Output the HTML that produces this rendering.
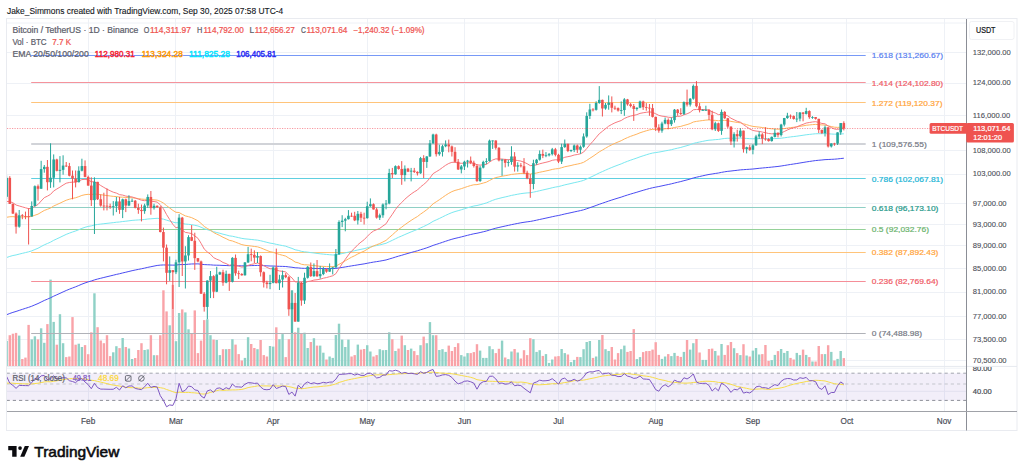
<!DOCTYPE html><html><head><meta charset="utf-8"><style>html,body{margin:0;padding:0;background:#fff;width:1024px;height:473px;overflow:hidden}svg{display:block}text{font-family:"Liberation Sans", sans-serif}</style></head><body>
<svg width="1024" height="473" viewBox="0 0 1024 473">
<rect width="1024" height="473" fill="#fff"/>
<text x="7.00" y="13.80" font-size="8.4" fill="#131722" font-weight="normal" stroke="#131722" stroke-width="0.12" textLength="276.20" lengthAdjust="spacingAndGlyphs">Jake_Simmons created with TradingView.com, Sep 30, 2025 07:58 UTC-4</text>
<rect x="6.5" y="18.5" width="1010.5" height="412" fill="none" stroke="#e9ebf0" stroke-width="1"/>
<line x1="88.50" y1="19" x2="88.50" y2="411" stroke="#eef1f6" stroke-width="1"/>
<line x1="175.50" y1="19" x2="175.50" y2="411" stroke="#eef1f6" stroke-width="1"/>
<line x1="273.50" y1="19" x2="273.50" y2="411" stroke="#eef1f6" stroke-width="1"/>
<line x1="367.50" y1="19" x2="367.50" y2="411" stroke="#eef1f6" stroke-width="1"/>
<line x1="464.50" y1="19" x2="464.50" y2="411" stroke="#eef1f6" stroke-width="1"/>
<line x1="558.50" y1="19" x2="558.50" y2="411" stroke="#eef1f6" stroke-width="1"/>
<line x1="655.50" y1="19" x2="655.50" y2="411" stroke="#eef1f6" stroke-width="1"/>
<line x1="752.50" y1="19" x2="752.50" y2="411" stroke="#eef1f6" stroke-width="1"/>
<line x1="846.50" y1="19" x2="846.50" y2="411" stroke="#eef1f6" stroke-width="1"/>
<line x1="944.50" y1="19" x2="944.50" y2="411" stroke="#eef1f6" stroke-width="1"/>
<line x1="7" y1="52.50" x2="966" y2="52.50" stroke="#eef1f6" stroke-width="1"/>
<line x1="7" y1="83.50" x2="966" y2="83.50" stroke="#eef1f6" stroke-width="1"/>
<line x1="7" y1="115.50" x2="966" y2="115.50" stroke="#eef1f6" stroke-width="1"/>
<line x1="7" y1="150.50" x2="966" y2="150.50" stroke="#eef1f6" stroke-width="1"/>
<line x1="7" y1="174.50" x2="966" y2="174.50" stroke="#eef1f6" stroke-width="1"/>
<line x1="7" y1="203.50" x2="966" y2="203.50" stroke="#eef1f6" stroke-width="1"/>
<line x1="7" y1="224.50" x2="966" y2="224.50" stroke="#eef1f6" stroke-width="1"/>
<line x1="7" y1="245.50" x2="966" y2="245.50" stroke="#eef1f6" stroke-width="1"/>
<line x1="7" y1="268.50" x2="966" y2="268.50" stroke="#eef1f6" stroke-width="1"/>
<line x1="7" y1="292.50" x2="966" y2="292.50" stroke="#eef1f6" stroke-width="1"/>
<line x1="7" y1="316.50" x2="966" y2="316.50" stroke="#eef1f6" stroke-width="1"/>
<line x1="7" y1="339.50" x2="966" y2="339.50" stroke="#eef1f6" stroke-width="1"/>
<line x1="7" y1="360.50" x2="966" y2="360.50" stroke="#eef1f6" stroke-width="1"/>
<line x1="7" y1="23" x2="966" y2="23" stroke="#eef1f6" stroke-width="1"/>
<line x1="7" y1="368.2" x2="966" y2="368.2" stroke="#eef1f6" stroke-width="1"/>
<line x1="7" y1="391.3" x2="966" y2="391.3" stroke="#eef1f6" stroke-width="1"/>
<line x1="7" y1="366.4" x2="1017" y2="366.4" stroke="#e6e9ef" stroke-width="1"/>
<rect x="7" y="373.2" width="959" height="27.2" fill="#7e57c2" fill-opacity="0.1"/>
<line x1="7" y1="373.2" x2="966" y2="373.2" stroke="#a3a6af" stroke-width="1" stroke-dasharray="3.2,3.0117" stroke-dashoffset="0.4"/>
<line x1="7" y1="384.0" x2="966" y2="384.0" stroke="#c3c5cc" stroke-width="1" stroke-dasharray="3.2,3.0117" stroke-dashoffset="0.4"/>
<line x1="7" y1="400.4" x2="966" y2="400.4" stroke="#8c8f98" stroke-width="1" stroke-dasharray="3.2,3.0117" stroke-dashoffset="0.4"/>
<defs><clipPath id="cp"><rect x="7" y="19" width="959" height="347"/></clipPath><clipPath id="cr"><rect x="7" y="366.5" width="959" height="44.5"/></clipPath></defs>
<g clip-path="url(#cp)">
<rect x="5.45" y="340.90" width="2.4" height="25.10" fill="#8fd1c6"/>
<rect x="8.59" y="335.20" width="2.4" height="30.80" fill="#f9a3a8"/>
<rect x="11.72" y="333.70" width="2.4" height="32.30" fill="#f9a3a8"/>
<rect x="14.86" y="332.90" width="2.4" height="33.10" fill="#f9a3a8"/>
<rect x="17.99" y="335.60" width="2.4" height="30.40" fill="#8fd1c6"/>
<rect x="21.13" y="359.00" width="2.4" height="7.00" fill="#f9a3a8"/>
<rect x="24.26" y="357.60" width="2.4" height="8.40" fill="#f9a3a8"/>
<rect x="27.40" y="324.90" width="2.4" height="41.10" fill="#f9a3a8"/>
<rect x="30.53" y="339.40" width="2.4" height="26.60" fill="#8fd1c6"/>
<rect x="33.67" y="336.30" width="2.4" height="29.70" fill="#8fd1c6"/>
<rect x="36.80" y="339.40" width="2.4" height="26.60" fill="#f9a3a8"/>
<rect x="39.94" y="328.30" width="2.4" height="37.70" fill="#8fd1c6"/>
<rect x="43.08" y="342.80" width="2.4" height="23.20" fill="#8fd1c6"/>
<rect x="46.21" y="324.10" width="2.4" height="41.90" fill="#f9a3a8"/>
<rect x="49.35" y="279.60" width="2.4" height="86.40" fill="#8fd1c6"/>
<rect x="52.48" y="321.90" width="2.4" height="44.10" fill="#8fd1c6"/>
<rect x="55.62" y="344.70" width="2.4" height="21.30" fill="#f9a3a8"/>
<rect x="58.75" y="314.20" width="2.4" height="51.80" fill="#8fd1c6"/>
<rect x="61.89" y="343.20" width="2.4" height="22.80" fill="#8fd1c6"/>
<rect x="65.02" y="357.10" width="2.4" height="8.90" fill="#f9a3a8"/>
<rect x="68.16" y="356.50" width="2.4" height="9.50" fill="#f9a3a8"/>
<rect x="71.30" y="317.10" width="2.4" height="48.90" fill="#f9a3a8"/>
<rect x="74.43" y="344.70" width="2.4" height="21.30" fill="#f9a3a8"/>
<rect x="77.57" y="343.70" width="2.4" height="22.30" fill="#8fd1c6"/>
<rect x="80.70" y="347.00" width="2.4" height="19.00" fill="#8fd1c6"/>
<rect x="83.84" y="345.10" width="2.4" height="20.90" fill="#f9a3a8"/>
<rect x="86.97" y="354.20" width="2.4" height="11.80" fill="#f9a3a8"/>
<rect x="90.11" y="332.30" width="2.4" height="33.70" fill="#f9a3a8"/>
<rect x="93.24" y="293.30" width="2.4" height="72.70" fill="#8fd1c6"/>
<rect x="96.38" y="327.20" width="2.4" height="38.80" fill="#f9a3a8"/>
<rect x="99.52" y="340.50" width="2.4" height="25.50" fill="#f9a3a8"/>
<rect x="102.65" y="343.20" width="2.4" height="22.80" fill="#f9a3a8"/>
<rect x="105.79" y="335.20" width="2.4" height="30.80" fill="#f9a3a8"/>
<rect x="108.92" y="356.10" width="2.4" height="9.90" fill="#f9a3a8"/>
<rect x="112.06" y="352.30" width="2.4" height="13.70" fill="#8fd1c6"/>
<rect x="115.19" y="346.20" width="2.4" height="19.80" fill="#8fd1c6"/>
<rect x="118.33" y="348.10" width="2.4" height="17.90" fill="#f9a3a8"/>
<rect x="121.46" y="338.00" width="2.4" height="28.00" fill="#8fd1c6"/>
<rect x="124.60" y="347.00" width="2.4" height="19.00" fill="#f9a3a8"/>
<rect x="127.73" y="348.50" width="2.4" height="17.50" fill="#8fd1c6"/>
<rect x="130.87" y="359.00" width="2.4" height="7.00" fill="#8fd1c6"/>
<rect x="134.01" y="358.00" width="2.4" height="8.00" fill="#f9a3a8"/>
<rect x="137.14" y="350.00" width="2.4" height="16.00" fill="#f9a3a8"/>
<rect x="140.28" y="343.20" width="2.4" height="22.80" fill="#f9a3a8"/>
<rect x="143.41" y="350.00" width="2.4" height="16.00" fill="#8fd1c6"/>
<rect x="146.55" y="349.40" width="2.4" height="16.60" fill="#8fd1c6"/>
<rect x="149.68" y="335.20" width="2.4" height="30.80" fill="#f9a3a8"/>
<rect x="152.82" y="355.20" width="2.4" height="10.80" fill="#8fd1c6"/>
<rect x="155.95" y="355.20" width="2.4" height="10.80" fill="#f9a3a8"/>
<rect x="159.09" y="335.20" width="2.4" height="30.80" fill="#f9a3a8"/>
<rect x="162.23" y="290.30" width="2.4" height="75.70" fill="#f9a3a8"/>
<rect x="165.36" y="311.40" width="2.4" height="54.60" fill="#f9a3a8"/>
<rect x="168.50" y="325.30" width="2.4" height="40.70" fill="#8fd1c6"/>
<rect x="171.63" y="284.90" width="2.4" height="81.10" fill="#f9a3a8"/>
<rect x="174.77" y="341.20" width="2.4" height="24.80" fill="#8fd1c6"/>
<rect x="177.90" y="313.00" width="2.4" height="53.00" fill="#8fd1c6"/>
<rect x="181.04" y="309.40" width="2.4" height="56.60" fill="#f9a3a8"/>
<rect x="184.17" y="312.40" width="2.4" height="53.60" fill="#8fd1c6"/>
<rect x="187.31" y="329.30" width="2.4" height="36.70" fill="#8fd1c6"/>
<rect x="190.44" y="333.30" width="2.4" height="32.70" fill="#f9a3a8"/>
<rect x="193.58" y="310.40" width="2.4" height="55.60" fill="#f9a3a8"/>
<rect x="196.72" y="353.10" width="2.4" height="12.90" fill="#f9a3a8"/>
<rect x="199.85" y="340.60" width="2.4" height="25.40" fill="#f9a3a8"/>
<rect x="202.99" y="320.10" width="2.4" height="45.90" fill="#f9a3a8"/>
<rect x="206.12" y="319.30" width="2.4" height="46.70" fill="#8fd1c6"/>
<rect x="209.26" y="335.20" width="2.4" height="30.80" fill="#8fd1c6"/>
<rect x="212.39" y="339.60" width="2.4" height="26.40" fill="#f9a3a8"/>
<rect x="215.53" y="340.00" width="2.4" height="26.00" fill="#8fd1c6"/>
<rect x="218.66" y="355.10" width="2.4" height="10.90" fill="#8fd1c6"/>
<rect x="221.80" y="349.20" width="2.4" height="16.80" fill="#f9a3a8"/>
<rect x="224.94" y="349.20" width="2.4" height="16.80" fill="#8fd1c6"/>
<rect x="228.07" y="349.00" width="2.4" height="17.00" fill="#f9a3a8"/>
<rect x="231.21" y="339.20" width="2.4" height="26.80" fill="#8fd1c6"/>
<rect x="234.34" y="344.60" width="2.4" height="21.40" fill="#f9a3a8"/>
<rect x="237.48" y="354.10" width="2.4" height="11.90" fill="#f9a3a8"/>
<rect x="240.61" y="360.50" width="2.4" height="5.50" fill="#f9a3a8"/>
<rect x="243.75" y="357.90" width="2.4" height="8.10" fill="#8fd1c6"/>
<rect x="246.88" y="337.20" width="2.4" height="28.80" fill="#8fd1c6"/>
<rect x="250.02" y="344.00" width="2.4" height="22.00" fill="#f9a3a8"/>
<rect x="253.15" y="348.00" width="2.4" height="18.00" fill="#f9a3a8"/>
<rect x="256.29" y="349.20" width="2.4" height="16.80" fill="#8fd1c6"/>
<rect x="259.43" y="340.00" width="2.4" height="26.00" fill="#f9a3a8"/>
<rect x="262.56" y="355.10" width="2.4" height="10.90" fill="#f9a3a8"/>
<rect x="265.70" y="356.50" width="2.4" height="9.50" fill="#f9a3a8"/>
<rect x="268.83" y="346.00" width="2.4" height="20.00" fill="#8fd1c6"/>
<rect x="271.97" y="346.60" width="2.4" height="19.40" fill="#8fd1c6"/>
<rect x="275.10" y="327.30" width="2.4" height="38.70" fill="#f9a3a8"/>
<rect x="278.24" y="339.20" width="2.4" height="26.80" fill="#8fd1c6"/>
<rect x="281.37" y="334.10" width="2.4" height="31.90" fill="#8fd1c6"/>
<rect x="284.51" y="357.10" width="2.4" height="8.90" fill="#f9a3a8"/>
<rect x="287.64" y="339.20" width="2.4" height="26.80" fill="#f9a3a8"/>
<rect x="290.78" y="290.30" width="2.4" height="75.70" fill="#8fd1c6"/>
<rect x="293.92" y="332.30" width="2.4" height="33.70" fill="#f9a3a8"/>
<rect x="297.05" y="327.70" width="2.4" height="38.30" fill="#8fd1c6"/>
<rect x="300.19" y="333.70" width="2.4" height="32.30" fill="#f9a3a8"/>
<rect x="303.32" y="332.70" width="2.4" height="33.30" fill="#8fd1c6"/>
<rect x="306.46" y="348.00" width="2.4" height="18.00" fill="#8fd1c6"/>
<rect x="309.59" y="342.00" width="2.4" height="24.00" fill="#f9a3a8"/>
<rect x="312.73" y="338.20" width="2.4" height="27.80" fill="#8fd1c6"/>
<rect x="315.86" y="345.60" width="2.4" height="20.40" fill="#f9a3a8"/>
<rect x="319.00" y="345.60" width="2.4" height="20.40" fill="#8fd1c6"/>
<rect x="322.14" y="352.70" width="2.4" height="13.30" fill="#8fd1c6"/>
<rect x="325.27" y="359.50" width="2.4" height="6.50" fill="#f9a3a8"/>
<rect x="328.41" y="356.50" width="2.4" height="9.50" fill="#8fd1c6"/>
<rect x="331.54" y="357.90" width="2.4" height="8.10" fill="#8fd1c6"/>
<rect x="334.68" y="335.00" width="2.4" height="31.00" fill="#8fd1c6"/>
<rect x="337.81" y="323.70" width="2.4" height="42.30" fill="#8fd1c6"/>
<rect x="340.95" y="339.60" width="2.4" height="26.40" fill="#8fd1c6"/>
<rect x="344.08" y="347.00" width="2.4" height="19.00" fill="#8fd1c6"/>
<rect x="347.22" y="339.60" width="2.4" height="26.40" fill="#8fd1c6"/>
<rect x="350.35" y="356.50" width="2.4" height="9.50" fill="#f9a3a8"/>
<rect x="353.49" y="355.10" width="2.4" height="10.90" fill="#f9a3a8"/>
<rect x="356.63" y="344.60" width="2.4" height="21.40" fill="#8fd1c6"/>
<rect x="359.76" y="349.60" width="2.4" height="16.40" fill="#f9a3a8"/>
<rect x="362.90" y="349.00" width="2.4" height="17.00" fill="#f9a3a8"/>
<rect x="366.03" y="345.20" width="2.4" height="20.80" fill="#8fd1c6"/>
<rect x="369.17" y="351.50" width="2.4" height="14.50" fill="#8fd1c6"/>
<rect x="372.30" y="356.50" width="2.4" height="9.50" fill="#f9a3a8"/>
<rect x="375.44" y="355.10" width="2.4" height="10.90" fill="#f9a3a8"/>
<rect x="378.57" y="349.20" width="2.4" height="16.80" fill="#8fd1c6"/>
<rect x="381.71" y="350.20" width="2.4" height="15.80" fill="#8fd1c6"/>
<rect x="384.85" y="350.00" width="2.4" height="16.00" fill="#8fd1c6"/>
<rect x="387.98" y="332.30" width="2.4" height="33.70" fill="#8fd1c6"/>
<rect x="391.12" y="339.20" width="2.4" height="26.80" fill="#f9a3a8"/>
<rect x="394.25" y="351.00" width="2.4" height="15.00" fill="#8fd1c6"/>
<rect x="397.39" y="348.60" width="2.4" height="17.40" fill="#f9a3a8"/>
<rect x="400.52" y="335.60" width="2.4" height="30.40" fill="#f9a3a8"/>
<rect x="403.66" y="345.20" width="2.4" height="20.80" fill="#8fd1c6"/>
<rect x="406.79" y="350.00" width="2.4" height="16.00" fill="#f9a3a8"/>
<rect x="409.93" y="348.60" width="2.4" height="17.40" fill="#8fd1c6"/>
<rect x="413.06" y="351.10" width="2.4" height="14.90" fill="#f9a3a8"/>
<rect x="416.20" y="355.10" width="2.4" height="10.90" fill="#f9a3a8"/>
<rect x="419.34" y="345.20" width="2.4" height="20.80" fill="#8fd1c6"/>
<rect x="422.47" y="336.60" width="2.4" height="29.40" fill="#f9a3a8"/>
<rect x="425.61" y="343.20" width="2.4" height="22.80" fill="#8fd1c6"/>
<rect x="428.74" y="322.10" width="2.4" height="43.90" fill="#8fd1c6"/>
<rect x="431.88" y="335.20" width="2.4" height="30.80" fill="#8fd1c6"/>
<rect x="435.01" y="335.20" width="2.4" height="30.80" fill="#f9a3a8"/>
<rect x="438.15" y="350.00" width="2.4" height="16.00" fill="#8fd1c6"/>
<rect x="441.28" y="349.20" width="2.4" height="16.80" fill="#8fd1c6"/>
<rect x="444.42" y="351.90" width="2.4" height="14.10" fill="#8fd1c6"/>
<rect x="447.56" y="345.60" width="2.4" height="20.40" fill="#f9a3a8"/>
<rect x="450.69" y="351.00" width="2.4" height="15.00" fill="#f9a3a8"/>
<rect x="453.83" y="347.00" width="2.4" height="19.00" fill="#f9a3a8"/>
<rect x="456.96" y="343.20" width="2.4" height="22.80" fill="#f9a3a8"/>
<rect x="460.10" y="355.10" width="2.4" height="10.90" fill="#8fd1c6"/>
<rect x="463.23" y="356.50" width="2.4" height="9.50" fill="#8fd1c6"/>
<rect x="466.37" y="353.10" width="2.4" height="12.90" fill="#8fd1c6"/>
<rect x="469.50" y="353.10" width="2.4" height="12.90" fill="#f9a3a8"/>
<rect x="472.64" y="352.10" width="2.4" height="13.90" fill="#f9a3a8"/>
<rect x="475.77" y="344.20" width="2.4" height="21.80" fill="#f9a3a8"/>
<rect x="478.91" y="350.60" width="2.4" height="15.40" fill="#8fd1c6"/>
<rect x="482.05" y="357.90" width="2.4" height="8.10" fill="#8fd1c6"/>
<rect x="485.18" y="357.90" width="2.4" height="8.10" fill="#8fd1c6"/>
<rect x="488.32" y="346.20" width="2.4" height="19.80" fill="#8fd1c6"/>
<rect x="491.45" y="349.20" width="2.4" height="16.80" fill="#8fd1c6"/>
<rect x="494.59" y="353.10" width="2.4" height="12.90" fill="#f9a3a8"/>
<rect x="497.72" y="348.80" width="2.4" height="17.20" fill="#f9a3a8"/>
<rect x="500.86" y="340.60" width="2.4" height="25.40" fill="#8fd1c6"/>
<rect x="503.99" y="357.50" width="2.4" height="8.50" fill="#f9a3a8"/>
<rect x="507.13" y="359.10" width="2.4" height="6.90" fill="#8fd1c6"/>
<rect x="510.27" y="351.50" width="2.4" height="14.50" fill="#8fd1c6"/>
<rect x="513.40" y="349.00" width="2.4" height="17.00" fill="#f9a3a8"/>
<rect x="516.54" y="352.50" width="2.4" height="13.50" fill="#8fd1c6"/>
<rect x="519.67" y="358.50" width="2.4" height="7.50" fill="#f9a3a8"/>
<rect x="522.81" y="350.20" width="2.4" height="15.80" fill="#f9a3a8"/>
<rect x="525.94" y="355.10" width="2.4" height="10.90" fill="#f9a3a8"/>
<rect x="529.08" y="338.20" width="2.4" height="27.80" fill="#f9a3a8"/>
<rect x="532.21" y="339.20" width="2.4" height="26.80" fill="#8fd1c6"/>
<rect x="535.35" y="351.90" width="2.4" height="14.10" fill="#8fd1c6"/>
<rect x="538.48" y="350.20" width="2.4" height="15.80" fill="#8fd1c6"/>
<rect x="541.62" y="355.90" width="2.4" height="10.10" fill="#f9a3a8"/>
<rect x="544.76" y="354.10" width="2.4" height="11.90" fill="#8fd1c6"/>
<rect x="547.89" y="362.90" width="2.4" height="3.10" fill="#8fd1c6"/>
<rect x="551.03" y="359.50" width="2.4" height="6.50" fill="#8fd1c6"/>
<rect x="554.16" y="356.50" width="2.4" height="9.50" fill="#f9a3a8"/>
<rect x="557.30" y="356.10" width="2.4" height="9.90" fill="#f9a3a8"/>
<rect x="560.43" y="349.00" width="2.4" height="17.00" fill="#8fd1c6"/>
<rect x="563.57" y="353.10" width="2.4" height="12.90" fill="#8fd1c6"/>
<rect x="566.70" y="354.50" width="2.4" height="11.50" fill="#f9a3a8"/>
<rect x="569.84" y="362.10" width="2.4" height="3.90" fill="#8fd1c6"/>
<rect x="572.98" y="359.90" width="2.4" height="6.10" fill="#8fd1c6"/>
<rect x="576.11" y="356.90" width="2.4" height="9.10" fill="#f9a3a8"/>
<rect x="579.25" y="357.10" width="2.4" height="8.90" fill="#8fd1c6"/>
<rect x="582.38" y="349.20" width="2.4" height="16.80" fill="#8fd1c6"/>
<rect x="585.52" y="342.00" width="2.4" height="24.00" fill="#8fd1c6"/>
<rect x="588.65" y="341.00" width="2.4" height="25.00" fill="#8fd1c6"/>
<rect x="591.79" y="357.90" width="2.4" height="8.10" fill="#f9a3a8"/>
<rect x="594.92" y="356.50" width="2.4" height="9.50" fill="#8fd1c6"/>
<rect x="598.06" y="340.00" width="2.4" height="26.00" fill="#8fd1c6"/>
<rect x="601.19" y="335.00" width="2.4" height="31.00" fill="#f9a3a8"/>
<rect x="604.33" y="349.20" width="2.4" height="16.80" fill="#8fd1c6"/>
<rect x="607.47" y="351.00" width="2.4" height="15.00" fill="#8fd1c6"/>
<rect x="610.60" y="347.00" width="2.4" height="19.00" fill="#f9a3a8"/>
<rect x="613.74" y="359.50" width="2.4" height="6.50" fill="#f9a3a8"/>
<rect x="616.87" y="353.10" width="2.4" height="12.90" fill="#f9a3a8"/>
<rect x="620.01" y="349.20" width="2.4" height="16.80" fill="#8fd1c6"/>
<rect x="623.14" y="345.60" width="2.4" height="20.40" fill="#8fd1c6"/>
<rect x="626.28" y="351.90" width="2.4" height="14.10" fill="#f9a3a8"/>
<rect x="629.41" y="351.00" width="2.4" height="15.00" fill="#f9a3a8"/>
<rect x="632.55" y="329.10" width="2.4" height="36.90" fill="#f9a3a8"/>
<rect x="635.69" y="359.10" width="2.4" height="6.90" fill="#8fd1c6"/>
<rect x="638.82" y="357.10" width="2.4" height="8.90" fill="#8fd1c6"/>
<rect x="641.96" y="352.10" width="2.4" height="13.90" fill="#f9a3a8"/>
<rect x="645.09" y="351.10" width="2.4" height="14.90" fill="#f9a3a8"/>
<rect x="648.23" y="351.00" width="2.4" height="15.00" fill="#f9a3a8"/>
<rect x="651.36" y="349.60" width="2.4" height="16.40" fill="#f9a3a8"/>
<rect x="654.50" y="342.20" width="2.4" height="23.80" fill="#f9a3a8"/>
<rect x="657.63" y="354.90" width="2.4" height="11.10" fill="#f9a3a8"/>
<rect x="660.77" y="358.90" width="2.4" height="7.10" fill="#8fd1c6"/>
<rect x="663.90" y="356.50" width="2.4" height="9.50" fill="#8fd1c6"/>
<rect x="667.04" y="354.10" width="2.4" height="11.90" fill="#f9a3a8"/>
<rect x="670.18" y="356.10" width="2.4" height="9.90" fill="#8fd1c6"/>
<rect x="673.31" y="352.90" width="2.4" height="13.10" fill="#8fd1c6"/>
<rect x="676.45" y="355.90" width="2.4" height="10.10" fill="#f9a3a8"/>
<rect x="679.58" y="356.90" width="2.4" height="9.10" fill="#f9a3a8"/>
<rect x="682.72" y="351.90" width="2.4" height="14.10" fill="#8fd1c6"/>
<rect x="685.85" y="340.00" width="2.4" height="26.00" fill="#f9a3a8"/>
<rect x="688.99" y="349.60" width="2.4" height="16.40" fill="#8fd1c6"/>
<rect x="692.12" y="343.20" width="2.4" height="22.80" fill="#8fd1c6"/>
<rect x="695.26" y="339.00" width="2.4" height="27.00" fill="#f9a3a8"/>
<rect x="698.40" y="352.50" width="2.4" height="13.50" fill="#f9a3a8"/>
<rect x="701.53" y="359.90" width="2.4" height="6.10" fill="#8fd1c6"/>
<rect x="704.67" y="359.90" width="2.4" height="6.10" fill="#8fd1c6"/>
<rect x="707.80" y="349.00" width="2.4" height="17.00" fill="#f9a3a8"/>
<rect x="710.94" y="348.60" width="2.4" height="17.40" fill="#f9a3a8"/>
<rect x="714.07" y="351.00" width="2.4" height="15.00" fill="#8fd1c6"/>
<rect x="717.21" y="355.50" width="2.4" height="10.50" fill="#f9a3a8"/>
<rect x="720.34" y="344.00" width="2.4" height="22.00" fill="#8fd1c6"/>
<rect x="723.48" y="354.90" width="2.4" height="11.10" fill="#f9a3a8"/>
<rect x="726.61" y="345.20" width="2.4" height="20.80" fill="#f9a3a8"/>
<rect x="729.75" y="342.00" width="2.4" height="24.00" fill="#f9a3a8"/>
<rect x="732.89" y="348.20" width="2.4" height="17.80" fill="#8fd1c6"/>
<rect x="736.02" y="353.10" width="2.4" height="12.90" fill="#f9a3a8"/>
<rect x="739.16" y="355.10" width="2.4" height="10.90" fill="#8fd1c6"/>
<rect x="742.29" y="344.20" width="2.4" height="21.80" fill="#f9a3a8"/>
<rect x="745.43" y="355.50" width="2.4" height="10.50" fill="#8fd1c6"/>
<rect x="748.56" y="356.50" width="2.4" height="9.50" fill="#f9a3a8"/>
<rect x="751.70" y="350.60" width="2.4" height="15.40" fill="#8fd1c6"/>
<rect x="754.83" y="348.00" width="2.4" height="18.00" fill="#8fd1c6"/>
<rect x="757.97" y="354.50" width="2.4" height="11.50" fill="#8fd1c6"/>
<rect x="761.11" y="354.10" width="2.4" height="11.90" fill="#f9a3a8"/>
<rect x="764.24" y="345.00" width="2.4" height="21.00" fill="#f9a3a8"/>
<rect x="767.38" y="360.90" width="2.4" height="5.10" fill="#f9a3a8"/>
<rect x="770.51" y="360.10" width="2.4" height="5.90" fill="#8fd1c6"/>
<rect x="773.65" y="354.90" width="2.4" height="11.10" fill="#8fd1c6"/>
<rect x="776.78" y="351.10" width="2.4" height="14.90" fill="#f9a3a8"/>
<rect x="779.92" y="349.00" width="2.4" height="17.00" fill="#8fd1c6"/>
<rect x="783.05" y="352.90" width="2.4" height="13.10" fill="#8fd1c6"/>
<rect x="786.19" y="351.00" width="2.4" height="15.00" fill="#8fd1c6"/>
<rect x="789.32" y="357.90" width="2.4" height="8.10" fill="#f9a3a8"/>
<rect x="792.46" y="359.50" width="2.4" height="6.50" fill="#f9a3a8"/>
<rect x="795.60" y="352.90" width="2.4" height="13.10" fill="#8fd1c6"/>
<rect x="798.73" y="355.10" width="2.4" height="10.90" fill="#8fd1c6"/>
<rect x="801.87" y="349.60" width="2.4" height="16.40" fill="#f9a3a8"/>
<rect x="805.00" y="354.90" width="2.4" height="11.10" fill="#8fd1c6"/>
<rect x="808.14" y="357.10" width="2.4" height="8.90" fill="#f9a3a8"/>
<rect x="811.27" y="361.50" width="2.4" height="4.50" fill="#8fd1c6"/>
<rect x="814.41" y="361.50" width="2.4" height="4.50" fill="#f9a3a8"/>
<rect x="817.54" y="346.00" width="2.4" height="20.00" fill="#f9a3a8"/>
<rect x="820.68" y="354.10" width="2.4" height="11.90" fill="#f9a3a8"/>
<rect x="823.82" y="354.10" width="2.4" height="11.90" fill="#8fd1c6"/>
<rect x="826.95" y="345.20" width="2.4" height="20.80" fill="#f9a3a8"/>
<rect x="830.09" y="351.90" width="2.4" height="14.10" fill="#8fd1c6"/>
<rect x="833.22" y="360.50" width="2.4" height="5.50" fill="#f9a3a8"/>
<rect x="836.36" y="358.90" width="2.4" height="7.10" fill="#8fd1c6"/>
<rect x="839.49" y="351.00" width="2.4" height="15.00" fill="#8fd1c6"/>
<rect x="842.63" y="358.10" width="2.4" height="7.90" fill="#f9a3a8"/>
<line x1="31.2" y1="55.50" x2="865.7" y2="55.50" stroke="#7799f7" stroke-width="1"/>
<line x1="31.2" y1="82.50" x2="865.7" y2="82.50" stroke="#f5939b" stroke-width="1"/>
<line x1="31.2" y1="102.50" x2="865.7" y2="102.50" stroke="#ffc47a" stroke-width="1"/>
<line x1="31.2" y1="144.00" x2="865.7" y2="144.00" stroke="#d1d3d8" stroke-width="2"/>
<line x1="31.2" y1="178.50" x2="865.7" y2="178.50" stroke="#5fcfe0" stroke-width="1"/>
<line x1="31.2" y1="207.50" x2="865.7" y2="207.50" stroke="#8fcfc5" stroke-width="1"/>
<line x1="31.2" y1="229.50" x2="865.7" y2="229.50" stroke="#95d199" stroke-width="1"/>
<line x1="31.2" y1="252.50" x2="865.7" y2="252.50" stroke="#ffc47a" stroke-width="1"/>
<line x1="31.2" y1="281.50" x2="865.7" y2="281.50" stroke="#f58e98" stroke-width="1"/>
<line x1="31.2" y1="333.50" x2="865.7" y2="333.50" stroke="#b0b2b8" stroke-width="1"/>
</g>
<g clip-path="url(#cp)" fill="none" stroke-linejoin="round">
<polyline points="6.65,314.72 9.79,313.48 12.92,312.38 16.06,311.45 19.19,310.39 22.33,309.36 25.46,308.34 28.60,307.33 31.73,306.22 34.87,304.87 38.01,303.56 41.14,302.03 44.28,300.48 47.41,299.15 50.55,297.78 53.68,296.19 56.82,294.78 59.95,293.36 63.09,291.91 66.22,290.49 69.36,289.20 72.50,287.97 75.63,286.80 78.77,285.49 81.90,284.15 85.04,282.96 88.17,281.89 91.31,281.01 94.44,279.91 97.58,279.04 100.72,278.25 103.85,277.48 106.99,276.71 110.12,275.96 113.26,275.21 116.39,274.42 119.53,273.74 122.66,272.94 125.80,272.22 128.93,271.46 132.07,270.70 135.21,270.03 138.34,269.40 141.48,268.78 144.61,268.11 147.75,267.35 150.88,266.72 154.02,266.08 157.15,265.46 160.29,265.11 163.43,264.94 166.56,265.01 169.70,265.06 172.83,265.14 175.97,265.11 179.10,264.61 182.24,264.58 185.37,264.49 188.51,264.21 191.64,263.97 194.78,263.91 197.92,263.89 201.05,264.18 204.19,264.58 207.32,264.74 210.46,264.85 213.59,265.11 216.73,265.20 219.86,265.27 223.00,265.44 226.13,265.53 229.27,265.69 232.41,265.61 235.54,265.68 238.68,265.77 241.81,265.86 244.95,265.82 248.08,265.71 251.22,265.60 254.35,265.52 257.49,265.42 260.63,265.49 263.76,265.66 266.90,265.84 270.03,266.00 273.17,266.02 276.30,266.19 279.44,266.32 282.57,266.40 285.71,266.51 288.84,266.92 291.98,267.26 295.12,267.78 298.25,267.92 301.39,268.24 304.52,268.33 307.66,268.31 310.79,268.39 313.93,268.42 317.06,268.50 320.20,268.55 323.34,268.56 326.47,268.59 329.61,268.58 332.74,268.57 335.88,268.43 339.01,267.94 342.15,267.45 345.28,266.94 348.42,266.41 351.55,265.88 354.69,265.40 357.83,264.86 360.96,264.37 364.10,263.89 367.23,263.28 370.37,262.66 373.50,262.10 376.64,261.63 379.77,261.15 382.91,260.55 386.05,259.95 389.18,259.01 392.32,258.09 395.45,257.08 398.59,256.12 401.72,255.25 404.86,254.31 407.99,253.41 411.13,252.51 414.26,251.64 417.40,250.80 420.54,249.78 423.67,248.83 426.81,247.82 429.94,246.66 433.08,245.41 436.21,244.41 439.35,243.40 442.48,242.33 445.62,241.26 448.76,240.22 451.89,239.25 455.03,238.42 458.16,237.68 461.30,236.92 464.43,236.11 467.57,235.30 470.70,234.52 473.84,233.79 476.97,233.24 480.11,232.54 483.25,231.79 486.38,231.03 489.52,230.04 492.65,229.07 495.79,228.19 498.92,227.46 502.06,226.74 505.19,226.06 508.33,225.38 511.47,224.65 514.60,224.04 517.74,223.42 520.87,222.81 524.01,222.29 527.14,221.83 530.28,221.44 533.41,220.83 536.55,220.18 539.68,219.47 542.82,218.80 545.96,218.12 549.09,217.44 552.23,216.72 555.36,216.06 558.50,215.49 561.63,214.76 564.77,214.00 567.90,213.33 571.04,212.66 574.18,211.94 577.31,211.28 580.45,210.60 583.58,209.80 586.72,208.77 589.85,207.68 592.99,206.60 596.12,205.46 599.26,204.29 602.39,203.23 605.53,202.15 608.67,201.05 611.80,200.03 614.94,199.03 618.07,198.06 621.21,197.11 624.34,196.03 627.48,195.03 630.61,194.06 633.75,193.14 636.89,192.21 640.02,191.22 643.16,190.31 646.29,189.41 649.43,188.53 652.56,187.77 655.70,187.13 658.83,186.53 661.97,185.87 665.11,185.16 668.24,184.52 671.38,183.83 674.51,183.04 677.65,182.29 680.78,181.56 683.92,180.70 687.05,179.88 690.19,179.01 693.32,177.99 696.46,177.22 699.60,176.51 702.73,175.80 705.87,175.10 709.00,174.46 712.14,173.99 715.27,173.46 718.41,173.02 721.54,172.37 724.68,171.80 727.81,171.33 730.95,171.02 734.09,170.64 737.22,170.29 740.36,169.88 743.49,169.67 746.63,169.44 749.76,169.24 752.90,169.00 756.03,168.66 759.17,168.31 762.31,168.00 765.44,167.71 768.58,167.43 771.71,167.12 774.85,166.77 777.98,166.44 781.12,166.01 784.25,165.51 787.39,164.98 790.52,164.47 793.66,164.00 796.80,163.53 799.93,162.99 803.07,162.48 806.20,161.94 809.34,161.47 812.47,161.01 815.61,160.57 818.74,160.26 821.88,159.98 825.02,159.64 828.15,159.51 831.29,159.35 834.42,159.19 837.56,158.91 840.69,158.54 843.83,158.23" stroke="#4a4cf2" stroke-width="1"/>
<polyline points="6.65,257.54 9.79,256.41 12.92,255.53 16.06,254.94 19.19,254.12 22.33,253.34 25.46,252.58 28.60,251.83 31.73,250.88 34.87,249.52 38.01,248.24 41.14,246.54 44.28,244.83 47.41,243.51 50.55,242.12 53.68,240.34 56.82,238.86 59.95,237.40 63.09,235.87 66.22,234.38 69.36,233.15 72.50,232.01 75.63,230.97 78.77,229.71 81.90,228.36 85.04,227.29 88.17,226.43 91.31,225.89 94.44,224.98 97.58,224.46 100.72,224.08 103.85,223.71 106.99,223.35 110.12,223.01 113.26,222.67 116.39,222.24 119.53,221.99 122.66,221.53 125.80,221.21 128.93,220.80 132.07,220.40 135.21,220.15 138.34,219.94 141.48,219.76 144.61,219.48 147.75,219.02 150.88,218.80 154.02,218.54 157.15,218.32 160.29,218.58 163.43,219.14 166.56,220.15 169.70,221.09 172.83,222.06 175.97,222.82 179.10,222.72 182.24,223.46 185.37,224.07 188.51,224.33 191.64,224.65 194.78,225.29 197.92,225.98 201.05,227.23 204.19,228.69 207.32,229.67 210.46,230.55 213.59,231.69 216.73,232.50 219.86,233.26 223.00,234.19 226.13,234.94 229.27,235.83 232.41,236.25 235.54,236.96 238.68,237.67 241.81,238.39 244.95,238.85 248.08,239.15 251.22,239.46 254.35,239.81 257.49,240.13 260.63,240.74 263.76,241.54 266.90,242.34 270.03,243.11 273.17,243.58 276.30,244.34 279.44,245.01 282.57,245.59 285.71,246.20 288.84,247.37 291.98,248.41 295.12,249.76 298.25,250.39 301.39,251.34 304.52,251.85 307.66,252.14 310.79,252.60 313.93,252.96 317.06,253.41 320.20,253.81 323.34,254.11 326.47,254.45 329.61,254.72 332.74,254.97 335.88,254.95 339.01,254.28 342.15,253.59 345.28,252.88 348.42,252.12 351.55,251.37 354.69,250.74 357.83,249.98 360.96,249.32 364.10,248.69 367.23,247.81 370.37,246.91 373.50,246.14 376.64,245.56 379.77,244.94 382.91,244.10 386.05,243.27 389.18,241.77 392.32,240.34 395.45,238.76 398.59,237.28 401.72,235.97 404.86,234.54 407.99,233.21 411.13,231.89 414.26,230.63 417.40,229.43 420.54,227.91 423.67,226.51 426.81,225.02 429.94,223.27 433.08,221.35 436.21,219.92 439.35,218.48 442.48,216.94 445.62,215.40 448.76,213.93 451.89,212.62 455.03,211.56 458.16,210.69 461.30,209.78 464.43,208.78 467.57,207.78 470.70,206.85 473.84,206.00 476.97,205.50 480.11,204.72 483.25,203.83 486.38,202.95 489.52,201.63 492.65,200.35 495.79,199.25 498.92,198.45 502.06,197.65 505.19,196.94 508.33,196.22 511.47,195.40 514.60,194.82 517.74,194.21 520.87,193.65 524.01,193.22 527.14,192.92 530.28,192.75 533.41,192.14 536.55,191.48 539.68,190.71 542.82,189.99 545.96,189.28 549.09,188.56 552.23,187.75 555.36,187.08 558.50,186.56 561.63,185.74 564.77,184.88 567.90,184.18 571.04,183.48 574.18,182.70 577.31,182.03 580.45,181.30 583.58,180.38 586.72,179.01 589.85,177.54 592.99,176.10 596.12,174.54 599.26,172.95 602.39,171.59 605.53,170.17 608.67,168.74 611.80,167.46 614.94,166.21 618.07,165.04 621.21,163.89 624.34,162.53 627.48,161.31 630.61,160.15 633.75,159.09 636.89,158.01 640.02,156.83 643.16,155.80 646.29,154.80 649.43,153.83 652.56,153.07 655.70,152.55 658.83,152.10 661.97,151.52 665.11,150.87 668.24,150.33 671.38,149.72 674.51,148.89 677.65,148.15 680.78,147.45 683.92,146.51 687.05,145.65 690.19,144.67 693.32,143.44 696.46,142.67 699.60,142.01 702.73,141.36 705.87,140.71 709.00,140.19 712.14,139.97 715.27,139.63 718.41,139.46 721.54,138.90 724.68,138.48 727.81,138.24 730.95,138.31 734.09,138.22 737.22,138.19 740.36,138.03 743.49,138.25 746.63,138.43 749.76,138.65 752.90,138.78 756.03,138.74 759.17,138.65 762.31,138.65 765.44,138.66 768.58,138.71 771.71,138.67 774.85,138.55 777.98,138.48 781.12,138.20 784.25,137.80 787.39,137.35 790.52,136.92 793.66,136.56 796.80,136.20 799.93,135.72 803.07,135.27 806.20,134.78 809.34,134.43 812.47,134.08 815.61,133.77 818.74,133.69 821.88,133.68 825.02,133.55 828.15,133.80 831.29,134.00 834.42,134.18 837.56,134.15 840.69,133.92 843.83,133.81" stroke="#7ae8f0" stroke-width="1"/>
<polyline points="6.65,217.29 9.79,216.76 12.92,216.64 16.06,217.03 19.19,216.96 22.33,216.92 25.46,216.89 28.60,216.87 31.73,216.44 34.87,215.22 38.01,214.16 41.14,212.31 44.28,210.45 47.41,209.31 50.55,208.03 53.68,206.03 56.82,204.60 59.95,203.19 63.09,201.66 66.22,200.22 69.36,199.23 72.50,198.41 75.63,197.76 78.77,196.67 81.90,195.43 85.04,194.69 88.17,194.33 91.31,194.56 94.44,194.06 97.58,194.26 100.72,194.70 103.85,195.13 106.99,195.55 110.12,195.97 113.26,196.36 116.39,196.56 119.53,197.08 122.66,197.16 125.80,197.49 128.93,197.63 132.07,197.75 135.21,198.14 138.34,198.60 141.48,199.08 144.61,199.33 147.75,199.24 150.88,199.58 154.02,199.82 157.15,200.12 160.29,201.33 163.43,203.07 166.56,205.62 169.70,208.00 172.83,210.37 175.97,212.30 179.10,212.51 182.24,214.34 185.37,215.89 188.51,216.71 191.64,217.63 194.78,219.16 197.92,220.75 201.05,223.42 204.19,226.44 207.32,228.45 210.46,230.23 213.59,232.51 216.73,234.08 219.86,235.53 223.00,237.29 226.13,238.67 229.27,240.30 232.41,240.97 235.54,242.20 238.68,243.41 241.81,244.62 244.95,245.31 248.08,245.66 251.22,246.01 254.35,246.46 257.49,246.83 260.63,247.81 263.76,249.12 266.90,250.45 270.03,251.68 273.17,252.29 276.30,253.46 279.44,254.46 282.57,255.26 285.71,256.10 288.84,258.08 291.98,259.76 295.12,262.05 298.25,262.84 301.39,264.26 304.52,264.79 307.66,264.87 310.79,265.30 313.93,265.53 317.06,265.94 320.20,266.26 323.34,266.37 326.47,266.58 329.61,266.64 332.74,266.67 335.88,266.17 339.01,264.36 342.15,262.57 345.28,260.80 348.42,258.95 351.55,257.19 354.69,255.69 357.83,253.98 360.96,252.50 364.10,251.11 367.23,249.27 370.37,247.43 373.50,245.88 376.64,244.74 379.77,243.55 382.91,241.96 386.05,240.39 389.18,237.57 392.32,234.93 395.45,232.04 398.59,229.41 401.72,227.16 404.86,224.73 407.99,222.54 411.13,220.40 414.26,218.40 417.40,216.55 420.54,214.12 423.67,211.97 426.81,209.67 429.94,206.89 433.08,203.84 436.21,201.80 439.35,199.74 442.48,197.53 445.62,195.34 448.76,193.33 451.89,191.63 455.03,190.42 458.16,189.59 461.30,188.66 464.43,187.57 467.57,186.49 470.70,185.54 473.84,184.75 476.97,184.61 480.11,183.93 483.25,183.05 486.38,182.17 489.52,180.47 492.65,178.84 495.79,177.58 498.92,176.90 502.06,176.22 505.19,175.69 508.33,175.14 511.47,174.40 514.60,174.09 517.74,173.74 520.87,173.44 524.01,173.42 527.14,173.61 530.28,174.01 533.41,173.59 536.55,173.03 539.68,172.27 542.82,171.61 545.96,170.96 549.09,170.29 552.23,169.45 555.36,168.87 558.50,168.58 561.63,167.72 564.77,166.76 567.90,166.13 571.04,165.49 574.18,164.69 577.31,164.10 580.45,163.40 583.58,162.32 586.72,160.41 589.85,158.31 592.99,156.32 596.12,154.12 599.26,151.87 602.39,150.10 605.53,148.24 608.67,146.37 611.80,144.80 614.94,143.31 618.07,141.98 621.21,140.69 624.34,139.00 627.48,137.60 630.61,136.32 633.75,135.22 636.89,134.11 640.02,132.79 643.16,131.76 646.29,130.79 649.43,129.89 652.56,129.37 655.70,129.29 658.83,129.35 661.97,129.12 665.11,128.75 668.24,128.57 671.38,128.24 674.51,127.50 677.65,126.92 680.78,126.40 683.92,125.43 687.05,124.60 690.19,123.55 693.32,122.02 696.46,121.39 699.60,120.95 702.73,120.52 705.87,120.10 709.00,119.89 712.14,120.26 715.27,120.37 718.41,120.78 721.54,120.43 724.68,120.35 727.81,120.59 730.95,121.39 734.09,121.88 737.22,122.44 740.36,122.76 743.49,123.77 746.63,124.67 749.76,125.63 752.90,126.39 756.03,126.78 759.17,127.08 762.31,127.53 765.44,127.97 768.58,128.48 771.71,128.81 774.85,128.96 777.98,129.20 781.12,129.02 784.25,128.58 787.39,128.07 790.52,127.60 793.66,127.26 796.80,126.91 799.93,126.34 803.07,125.85 806.20,125.26 809.34,124.94 812.47,124.63 815.61,124.40 818.74,124.61 821.88,124.94 825.02,125.03 828.15,125.85 831.29,126.53 834.42,127.19 837.56,127.39 840.69,127.22 843.83,127.27" stroke="#ffb45e" stroke-width="1"/>
<polyline points="6.65,201.40 9.79,201.63 12.92,202.76 16.06,204.99 19.19,205.96 22.33,206.90 25.46,207.78 28.60,208.60 31.73,208.35 34.87,206.20 38.01,204.52 41.14,201.03 44.28,197.67 47.41,196.18 50.55,194.39 53.68,190.95 56.82,189.00 59.95,187.14 63.09,185.05 66.22,183.21 69.36,182.49 72.50,182.12 75.63,182.13 78.77,181.03 81.90,179.58 85.04,179.33 88.17,179.92 91.31,181.81 94.44,181.81 97.58,183.45 100.72,185.52 103.85,187.40 106.99,189.15 110.12,190.75 113.26,192.20 116.39,193.08 119.53,194.65 122.66,195.09 125.80,196.08 128.93,196.55 132.07,196.95 135.21,197.97 138.34,199.10 141.48,200.23 144.61,200.73 147.75,200.36 150.88,201.10 154.02,201.54 157.15,202.09 160.29,204.86 163.43,208.78 166.56,214.53 169.70,219.57 172.83,224.34 175.97,227.84 179.10,226.86 182.24,230.05 185.37,232.42 188.51,232.86 191.64,233.61 194.78,235.90 197.92,238.28 201.05,243.29 204.19,249.01 207.32,251.93 210.46,254.18 213.59,257.64 216.73,259.21 219.86,260.44 223.00,262.51 226.13,263.58 229.27,265.29 232.41,264.57 235.54,265.40 238.68,266.21 241.81,267.07 244.95,266.62 248.08,265.43 251.22,264.41 254.35,263.76 257.49,263.02 260.63,263.89 263.76,265.63 266.90,267.36 270.03,268.81 273.17,268.69 276.30,270.05 279.44,270.95 282.57,271.35 285.71,271.90 288.84,275.34 291.98,277.90 295.12,281.90 298.25,281.98 301.39,283.71 304.52,283.14 307.66,281.56 310.79,281.04 313.93,280.09 317.06,279.72 320.20,279.18 323.34,278.20 326.47,277.57 329.61,276.67 332.74,275.78 335.88,273.68 339.01,268.52 342.15,263.76 345.28,259.33 348.42,255.01 351.55,251.14 354.69,248.12 357.83,244.75 360.96,242.11 364.10,239.78 367.23,236.49 370.37,233.32 373.50,231.00 376.64,229.71 379.77,228.31 382.91,225.99 386.05,223.81 389.18,218.74 392.32,214.33 395.45,209.54 398.59,205.52 401.72,202.54 404.86,199.21 407.99,196.52 411.13,194.00 414.26,191.85 417.40,190.05 420.54,186.92 423.67,184.48 426.81,181.74 429.94,177.95 433.08,173.65 436.21,171.76 439.35,169.83 442.48,167.54 445.62,165.29 448.76,163.46 451.89,162.34 455.03,162.29 458.16,162.97 461.30,163.30 464.43,163.15 467.57,162.91 470.70,162.89 473.84,163.19 476.97,164.86 480.11,165.12 483.25,164.81 486.38,164.46 489.52,162.13 492.65,160.03 495.79,158.86 498.92,159.01 502.06,159.08 505.19,159.44 508.33,159.68 511.47,159.37 514.60,160.06 517.74,160.55 520.87,161.09 524.01,162.19 527.14,163.71 530.28,165.61 533.41,165.38 536.55,164.84 539.68,163.79 542.82,163.01 545.96,162.27 549.09,161.49 552.23,160.32 555.36,159.79 558.50,159.96 561.63,158.72 564.77,157.28 567.90,156.68 571.04,156.04 574.18,155.03 577.31,154.52 580.45,153.78 583.58,152.10 586.72,148.54 589.85,144.68 592.99,141.25 596.12,137.48 599.26,133.77 602.39,131.30 605.53,128.72 608.67,126.17 611.80,124.39 614.94,122.82 618.07,121.64 621.21,120.52 624.34,118.47 627.48,117.11 630.61,116.05 633.75,115.37 636.89,114.64 640.02,113.37 643.16,112.78 646.29,112.29 649.43,111.89 652.56,112.37 655.70,113.78 658.83,115.37 661.97,116.14 665.11,116.49 668.24,117.22 671.38,117.50 674.51,116.74 677.65,116.39 680.78,116.15 683.92,114.80 687.05,113.82 690.19,112.36 693.32,109.77 696.46,109.44 699.60,109.51 702.73,109.56 705.87,109.60 709.00,110.10 712.14,111.90 715.27,112.97 718.41,114.65 721.54,114.39 724.68,114.75 727.81,115.87 730.95,118.24 734.09,119.74 737.22,121.29 740.36,122.17 743.49,124.68 746.63,126.79 749.76,128.94 752.90,130.47 756.03,131.04 759.17,131.36 762.31,132.05 765.44,132.71 768.58,133.50 771.71,133.82 774.85,133.72 777.98,133.85 781.12,132.96 784.25,131.52 787.39,129.99 790.52,128.65 793.66,127.72 796.80,126.85 799.93,125.47 803.07,124.35 806.20,123.07 809.34,122.51 812.47,121.98 815.61,121.68 818.74,122.45 821.88,123.45 825.02,123.81 828.15,125.92 831.29,127.57 834.42,129.07 837.56,129.38 840.69,128.78 843.83,128.74" stroke="#f77a80" stroke-width="1"/>
</g>
<g clip-path="url(#cp)">
<rect x="6.15" y="175.50" width="1.0" height="23.50" fill="#26a69a"/>
<rect x="5.35" y="177.85" width="2.6" height="18.95" fill="#26a69a"/>
<rect x="9.29" y="176.10" width="1.0" height="27.90" fill="#ef5350"/>
<rect x="8.49" y="177.85" width="2.6" height="26.03" fill="#ef5350"/>
<rect x="12.42" y="203.60" width="1.0" height="10.40" fill="#ef5350"/>
<rect x="11.62" y="203.88" width="2.6" height="9.68" fill="#ef5350"/>
<rect x="15.56" y="212.40" width="1.0" height="21.20" fill="#ef5350"/>
<rect x="14.76" y="213.56" width="2.6" height="13.12" fill="#ef5350"/>
<rect x="18.69" y="210.00" width="1.0" height="17.70" fill="#26a69a"/>
<rect x="17.89" y="215.29" width="2.6" height="11.39" fill="#26a69a"/>
<rect x="21.83" y="214.10" width="1.0" height="5.10" fill="#ef5350"/>
<rect x="21.03" y="215.29" width="2.6" height="0.80" fill="#ef5350"/>
<rect x="24.96" y="211.60" width="1.0" height="7.60" fill="#ef5350"/>
<rect x="24.16" y="215.95" width="2.6" height="0.80" fill="#ef5350"/>
<rect x="28.10" y="208.20" width="1.0" height="36.30" fill="#ef5350"/>
<rect x="27.30" y="216.23" width="2.6" height="0.80" fill="#ef5350"/>
<rect x="31.23" y="201.40" width="1.0" height="15.30" fill="#26a69a"/>
<rect x="30.43" y="206.01" width="2.6" height="10.45" fill="#26a69a"/>
<rect x="34.37" y="185.40" width="1.0" height="21.10" fill="#26a69a"/>
<rect x="33.57" y="186.23" width="2.6" height="19.78" fill="#26a69a"/>
<rect x="37.51" y="184.50" width="1.0" height="16.10" fill="#ef5350"/>
<rect x="36.71" y="186.23" width="2.6" height="2.53" fill="#ef5350"/>
<rect x="40.64" y="160.80" width="1.0" height="28.00" fill="#26a69a"/>
<rect x="39.84" y="169.08" width="2.6" height="19.67" fill="#26a69a"/>
<rect x="43.78" y="165.00" width="1.0" height="7.70" fill="#26a69a"/>
<rect x="42.98" y="166.84" width="2.6" height="2.25" fill="#26a69a"/>
<rect x="46.91" y="160.00" width="1.0" height="30.40" fill="#ef5350"/>
<rect x="46.11" y="166.84" width="2.6" height="15.38" fill="#ef5350"/>
<rect x="50.05" y="143.30" width="1.0" height="44.60" fill="#26a69a"/>
<rect x="49.25" y="177.73" width="2.6" height="4.48" fill="#26a69a"/>
<rect x="53.18" y="154.40" width="1.0" height="33.00" fill="#26a69a"/>
<rect x="52.38" y="159.44" width="2.6" height="18.29" fill="#26a69a"/>
<rect x="56.32" y="158.70" width="1.0" height="12.70" fill="#ef5350"/>
<rect x="55.52" y="159.44" width="2.6" height="11.40" fill="#ef5350"/>
<rect x="59.45" y="156.10" width="1.0" height="26.30" fill="#26a69a"/>
<rect x="58.65" y="169.84" width="2.6" height="1.00" fill="#26a69a"/>
<rect x="62.59" y="155.30" width="1.0" height="19.40" fill="#26a69a"/>
<rect x="61.79" y="165.60" width="2.6" height="4.24" fill="#26a69a"/>
<rect x="65.72" y="162.00" width="1.0" height="5.00" fill="#ef5350"/>
<rect x="64.92" y="165.60" width="2.6" height="0.80" fill="#ef5350"/>
<rect x="68.86" y="162.90" width="1.0" height="13.50" fill="#ef5350"/>
<rect x="68.06" y="166.09" width="2.6" height="9.62" fill="#ef5350"/>
<rect x="72.00" y="170.50" width="1.0" height="28.80" fill="#ef5350"/>
<rect x="71.20" y="175.71" width="2.6" height="2.85" fill="#ef5350"/>
<rect x="75.13" y="170.50" width="1.0" height="16.90" fill="#ef5350"/>
<rect x="74.33" y="178.56" width="2.6" height="3.64" fill="#ef5350"/>
<rect x="78.27" y="166.30" width="1.0" height="16.10" fill="#26a69a"/>
<rect x="77.47" y="170.71" width="2.6" height="11.49" fill="#26a69a"/>
<rect x="81.40" y="158.70" width="1.0" height="12.70" fill="#26a69a"/>
<rect x="80.60" y="166.06" width="2.6" height="4.66" fill="#26a69a"/>
<rect x="84.54" y="160.40" width="1.0" height="16.90" fill="#ef5350"/>
<rect x="83.74" y="166.06" width="2.6" height="10.86" fill="#ef5350"/>
<rect x="87.67" y="175.60" width="1.0" height="10.10" fill="#ef5350"/>
<rect x="86.87" y="176.92" width="2.6" height="8.68" fill="#ef5350"/>
<rect x="90.81" y="177.30" width="1.0" height="28.70" fill="#ef5350"/>
<rect x="90.01" y="185.59" width="2.6" height="14.53" fill="#ef5350"/>
<rect x="93.94" y="177.30" width="1.0" height="56.70" fill="#26a69a"/>
<rect x="93.14" y="181.85" width="2.6" height="18.27" fill="#26a69a"/>
<rect x="97.08" y="181.85" width="1.0" height="18.15" fill="#ef5350"/>
<rect x="96.28" y="181.85" width="2.6" height="17.41" fill="#ef5350"/>
<rect x="100.22" y="194.40" width="1.0" height="12.30" fill="#ef5350"/>
<rect x="99.42" y="199.26" width="2.6" height="6.34" fill="#ef5350"/>
<rect x="103.35" y="192.70" width="1.0" height="17.70" fill="#ef5350"/>
<rect x="102.55" y="205.60" width="2.6" height="0.80" fill="#ef5350"/>
<rect x="106.49" y="188.50" width="1.0" height="21.90" fill="#ef5350"/>
<rect x="105.69" y="205.71" width="2.6" height="0.80" fill="#ef5350"/>
<rect x="109.62" y="203.70" width="1.0" height="5.10" fill="#ef5350"/>
<rect x="108.82" y="206.04" width="2.6" height="0.80" fill="#ef5350"/>
<rect x="112.76" y="201.10" width="1.0" height="14.40" fill="#26a69a"/>
<rect x="111.96" y="206.18" width="2.6" height="0.80" fill="#26a69a"/>
<rect x="115.89" y="196.90" width="1.0" height="15.20" fill="#26a69a"/>
<rect x="115.09" y="201.44" width="2.6" height="4.74" fill="#26a69a"/>
<rect x="119.03" y="196.90" width="1.0" height="16.90" fill="#ef5350"/>
<rect x="118.23" y="201.44" width="2.6" height="8.42" fill="#ef5350"/>
<rect x="122.16" y="198.60" width="1.0" height="19.50" fill="#26a69a"/>
<rect x="121.36" y="199.28" width="2.6" height="10.58" fill="#26a69a"/>
<rect x="125.30" y="198.60" width="1.0" height="13.50" fill="#ef5350"/>
<rect x="124.50" y="199.28" width="2.6" height="6.27" fill="#ef5350"/>
<rect x="128.43" y="195.20" width="1.0" height="11.00" fill="#26a69a"/>
<rect x="127.63" y="201.08" width="2.6" height="4.47" fill="#26a69a"/>
<rect x="131.57" y="198.60" width="1.0" height="3.40" fill="#26a69a"/>
<rect x="130.77" y="200.72" width="2.6" height="0.80" fill="#26a69a"/>
<rect x="134.71" y="200.00" width="1.0" height="8.40" fill="#ef5350"/>
<rect x="133.91" y="200.72" width="2.6" height="7.12" fill="#ef5350"/>
<rect x="137.84" y="203.70" width="1.0" height="10.10" fill="#ef5350"/>
<rect x="137.04" y="207.84" width="2.6" height="2.06" fill="#ef5350"/>
<rect x="140.98" y="204.50" width="1.0" height="16.90" fill="#ef5350"/>
<rect x="140.18" y="209.90" width="2.6" height="1.20" fill="#ef5350"/>
<rect x="144.11" y="203.70" width="1.0" height="10.10" fill="#26a69a"/>
<rect x="143.31" y="205.50" width="2.6" height="5.60" fill="#26a69a"/>
<rect x="147.25" y="194.40" width="1.0" height="13.50" fill="#26a69a"/>
<rect x="146.45" y="196.95" width="2.6" height="8.55" fill="#26a69a"/>
<rect x="150.38" y="191.00" width="1.0" height="23.70" fill="#ef5350"/>
<rect x="149.58" y="196.95" width="2.6" height="11.15" fill="#ef5350"/>
<rect x="153.52" y="203.70" width="1.0" height="5.90" fill="#26a69a"/>
<rect x="152.72" y="205.79" width="2.6" height="2.30" fill="#26a69a"/>
<rect x="156.65" y="205.40" width="1.0" height="2.50" fill="#ef5350"/>
<rect x="155.85" y="205.79" width="2.6" height="1.54" fill="#ef5350"/>
<rect x="159.79" y="206.20" width="1.0" height="26.20" fill="#ef5350"/>
<rect x="158.99" y="207.34" width="2.6" height="24.68" fill="#ef5350"/>
<rect x="162.93" y="227.60" width="1.0" height="33.80" fill="#ef5350"/>
<rect x="162.12" y="232.02" width="2.6" height="15.64" fill="#ef5350"/>
<rect x="166.06" y="244.50" width="1.0" height="39.80" fill="#ef5350"/>
<rect x="165.26" y="247.66" width="2.6" height="25.15" fill="#ef5350"/>
<rect x="169.20" y="256.40" width="1.0" height="24.50" fill="#26a69a"/>
<rect x="168.40" y="270.15" width="2.6" height="2.66" fill="#26a69a"/>
<rect x="172.33" y="270.10" width="1.0" height="38.90" fill="#ef5350"/>
<rect x="171.53" y="270.15" width="2.6" height="2.08" fill="#ef5350"/>
<rect x="175.47" y="259.70" width="1.0" height="14.40" fill="#26a69a"/>
<rect x="174.67" y="262.35" width="2.6" height="9.87" fill="#26a69a"/>
<rect x="178.60" y="214.10" width="1.0" height="72.90" fill="#26a69a"/>
<rect x="177.80" y="217.66" width="2.6" height="44.69" fill="#26a69a"/>
<rect x="181.74" y="216.90" width="1.0" height="59.10" fill="#ef5350"/>
<rect x="180.94" y="217.66" width="2.6" height="43.81" fill="#ef5350"/>
<rect x="184.87" y="246.20" width="1.0" height="42.30" fill="#26a69a"/>
<rect x="184.07" y="255.46" width="2.6" height="6.00" fill="#26a69a"/>
<rect x="188.01" y="235.20" width="1.0" height="25.40" fill="#26a69a"/>
<rect x="187.21" y="237.11" width="2.6" height="18.35" fill="#26a69a"/>
<rect x="191.14" y="225.10" width="1.0" height="16.00" fill="#ef5350"/>
<rect x="190.34" y="237.11" width="2.6" height="3.67" fill="#ef5350"/>
<rect x="194.28" y="232.70" width="1.0" height="37.20" fill="#ef5350"/>
<rect x="193.48" y="240.78" width="2.6" height="17.38" fill="#ef5350"/>
<rect x="197.42" y="258.10" width="1.0" height="4.20" fill="#ef5350"/>
<rect x="196.62" y="258.16" width="2.6" height="3.29" fill="#ef5350"/>
<rect x="200.55" y="260.60" width="1.0" height="33.13" fill="#ef5350"/>
<rect x="199.75" y="261.45" width="2.6" height="32.28" fill="#ef5350"/>
<rect x="203.69" y="292.10" width="1.0" height="19.50" fill="#ef5350"/>
<rect x="202.89" y="293.73" width="2.6" height="13.18" fill="#ef5350"/>
<rect x="206.82" y="280.30" width="1.0" height="38.90" fill="#26a69a"/>
<rect x="206.02" y="280.55" width="2.6" height="26.36" fill="#26a69a"/>
<rect x="209.96" y="271.00" width="1.0" height="27.10" fill="#26a69a"/>
<rect x="209.16" y="276.14" width="2.6" height="4.41" fill="#26a69a"/>
<rect x="213.09" y="275.20" width="1.0" height="22.90" fill="#ef5350"/>
<rect x="212.29" y="276.14" width="2.6" height="15.57" fill="#ef5350"/>
<rect x="216.23" y="266.80" width="1.0" height="25.30" fill="#26a69a"/>
<rect x="215.43" y="274.45" width="2.6" height="17.26" fill="#26a69a"/>
<rect x="219.36" y="271.60" width="1.0" height="3.40" fill="#26a69a"/>
<rect x="218.56" y="272.27" width="2.6" height="2.18" fill="#26a69a"/>
<rect x="222.50" y="269.70" width="1.0" height="16.10" fill="#ef5350"/>
<rect x="221.70" y="272.27" width="2.6" height="10.37" fill="#ef5350"/>
<rect x="225.63" y="270.60" width="1.0" height="12.70" fill="#26a69a"/>
<rect x="224.83" y="273.82" width="2.6" height="8.82" fill="#26a69a"/>
<rect x="228.77" y="273.82" width="1.0" height="17.08" fill="#ef5350"/>
<rect x="227.97" y="273.82" width="2.6" height="7.99" fill="#ef5350"/>
<rect x="231.91" y="257.10" width="1.0" height="25.30" fill="#26a69a"/>
<rect x="231.11" y="257.87" width="2.6" height="23.94" fill="#26a69a"/>
<rect x="235.04" y="254.50" width="1.0" height="21.20" fill="#ef5350"/>
<rect x="234.24" y="257.87" width="2.6" height="15.42" fill="#ef5350"/>
<rect x="238.18" y="270.60" width="1.0" height="8.40" fill="#ef5350"/>
<rect x="237.38" y="273.29" width="2.6" height="0.80" fill="#ef5350"/>
<rect x="241.31" y="273.10" width="1.0" height="2.60" fill="#ef5350"/>
<rect x="240.51" y="274.02" width="2.6" height="1.23" fill="#ef5350"/>
<rect x="244.45" y="262.10" width="1.0" height="13.60" fill="#26a69a"/>
<rect x="243.65" y="262.41" width="2.6" height="12.84" fill="#26a69a"/>
<rect x="247.58" y="246.90" width="1.0" height="16.10" fill="#26a69a"/>
<rect x="246.78" y="254.24" width="2.6" height="8.17" fill="#26a69a"/>
<rect x="250.72" y="248.60" width="1.0" height="12.70" fill="#ef5350"/>
<rect x="249.92" y="254.24" width="2.6" height="0.80" fill="#ef5350"/>
<rect x="253.85" y="250.30" width="1.0" height="12.70" fill="#ef5350"/>
<rect x="253.05" y="254.84" width="2.6" height="2.77" fill="#ef5350"/>
<rect x="256.99" y="252.00" width="1.0" height="11.00" fill="#26a69a"/>
<rect x="256.19" y="256.05" width="2.6" height="1.56" fill="#26a69a"/>
<rect x="260.13" y="255.40" width="1.0" height="21.10" fill="#ef5350"/>
<rect x="259.33" y="256.05" width="2.6" height="16.16" fill="#ef5350"/>
<rect x="263.26" y="271.40" width="1.0" height="16.10" fill="#ef5350"/>
<rect x="262.46" y="272.21" width="2.6" height="10.32" fill="#ef5350"/>
<rect x="266.40" y="280.70" width="1.0" height="7.70" fill="#ef5350"/>
<rect x="265.60" y="282.53" width="2.6" height="1.57" fill="#ef5350"/>
<rect x="269.53" y="274.80" width="1.0" height="14.40" fill="#26a69a"/>
<rect x="268.73" y="282.82" width="2.6" height="1.27" fill="#26a69a"/>
<rect x="272.67" y="266.40" width="1.0" height="16.90" fill="#26a69a"/>
<rect x="271.87" y="267.48" width="2.6" height="15.34" fill="#26a69a"/>
<rect x="275.80" y="248.60" width="1.0" height="34.70" fill="#ef5350"/>
<rect x="275.00" y="267.48" width="2.6" height="15.71" fill="#ef5350"/>
<rect x="278.94" y="274.80" width="1.0" height="15.20" fill="#26a69a"/>
<rect x="278.14" y="279.54" width="2.6" height="3.66" fill="#26a69a"/>
<rect x="282.07" y="270.60" width="1.0" height="16.90" fill="#26a69a"/>
<rect x="281.27" y="275.18" width="2.6" height="4.36" fill="#26a69a"/>
<rect x="285.21" y="273.10" width="1.0" height="5.10" fill="#ef5350"/>
<rect x="284.41" y="275.18" width="2.6" height="1.99" fill="#ef5350"/>
<rect x="288.34" y="276.10" width="1.0" height="39.70" fill="#ef5350"/>
<rect x="287.54" y="277.17" width="2.6" height="32.12" fill="#ef5350"/>
<rect x="291.48" y="290.40" width="1.0" height="42.70" fill="#26a69a"/>
<rect x="290.68" y="302.93" width="2.6" height="6.36" fill="#26a69a"/>
<rect x="294.62" y="293.00" width="1.0" height="28.70" fill="#ef5350"/>
<rect x="293.82" y="302.93" width="2.6" height="18.71" fill="#ef5350"/>
<rect x="297.75" y="276.90" width="1.0" height="44.80" fill="#26a69a"/>
<rect x="296.95" y="282.67" width="2.6" height="38.96" fill="#26a69a"/>
<rect x="300.89" y="282.00" width="1.0" height="23.70" fill="#ef5350"/>
<rect x="300.09" y="282.67" width="2.6" height="17.84" fill="#ef5350"/>
<rect x="304.02" y="272.70" width="1.0" height="31.30" fill="#26a69a"/>
<rect x="303.22" y="277.76" width="2.6" height="22.75" fill="#26a69a"/>
<rect x="307.16" y="265.90" width="1.0" height="12.70" fill="#26a69a"/>
<rect x="306.36" y="266.80" width="2.6" height="10.96" fill="#26a69a"/>
<rect x="310.29" y="262.50" width="1.0" height="14.40" fill="#ef5350"/>
<rect x="309.49" y="266.80" width="2.6" height="9.31" fill="#ef5350"/>
<rect x="313.43" y="263.40" width="1.0" height="13.50" fill="#26a69a"/>
<rect x="312.63" y="271.11" width="2.6" height="5.01" fill="#26a69a"/>
<rect x="316.56" y="260.00" width="1.0" height="16.90" fill="#ef5350"/>
<rect x="315.76" y="271.11" width="2.6" height="5.09" fill="#ef5350"/>
<rect x="319.70" y="265.90" width="1.0" height="12.70" fill="#26a69a"/>
<rect x="318.90" y="274.07" width="2.6" height="2.13" fill="#26a69a"/>
<rect x="322.84" y="266.80" width="1.0" height="8.40" fill="#26a69a"/>
<rect x="322.04" y="269.06" width="2.6" height="5.01" fill="#26a69a"/>
<rect x="325.97" y="268.50" width="1.0" height="4.20" fill="#ef5350"/>
<rect x="325.17" y="269.06" width="2.6" height="2.58" fill="#ef5350"/>
<rect x="329.11" y="263.40" width="1.0" height="8.40" fill="#26a69a"/>
<rect x="328.31" y="268.14" width="2.6" height="3.51" fill="#26a69a"/>
<rect x="332.24" y="266.80" width="1.0" height="7.60" fill="#26a69a"/>
<rect x="331.44" y="267.47" width="2.6" height="0.80" fill="#26a69a"/>
<rect x="335.38" y="249.00" width="1.0" height="18.70" fill="#26a69a"/>
<rect x="334.58" y="254.17" width="2.6" height="13.30" fill="#26a69a"/>
<rect x="338.51" y="220.30" width="1.0" height="34.70" fill="#26a69a"/>
<rect x="337.71" y="221.99" width="2.6" height="32.18" fill="#26a69a"/>
<rect x="341.65" y="215.20" width="1.0" height="11.90" fill="#26a69a"/>
<rect x="340.85" y="220.68" width="2.6" height="1.31" fill="#26a69a"/>
<rect x="344.78" y="217.80" width="1.0" height="13.50" fill="#26a69a"/>
<rect x="343.98" y="219.17" width="2.6" height="1.51" fill="#26a69a"/>
<rect x="347.92" y="210.10" width="1.0" height="9.40" fill="#26a69a"/>
<rect x="347.12" y="215.75" width="2.6" height="3.42" fill="#26a69a"/>
<rect x="351.05" y="212.70" width="1.0" height="4.20" fill="#ef5350"/>
<rect x="350.25" y="215.75" width="2.6" height="0.80" fill="#ef5350"/>
<rect x="354.19" y="211.80" width="1.0" height="9.30" fill="#ef5350"/>
<rect x="353.39" y="215.79" width="2.6" height="4.58" fill="#ef5350"/>
<rect x="357.33" y="211.00" width="1.0" height="13.50" fill="#26a69a"/>
<rect x="356.53" y="213.82" width="2.6" height="6.56" fill="#26a69a"/>
<rect x="360.46" y="211.80" width="1.0" height="10.20" fill="#ef5350"/>
<rect x="359.66" y="213.82" width="2.6" height="3.92" fill="#ef5350"/>
<rect x="363.60" y="212.70" width="1.0" height="11.80" fill="#ef5350"/>
<rect x="362.80" y="217.73" width="2.6" height="0.80" fill="#ef5350"/>
<rect x="366.73" y="201.70" width="1.0" height="16.90" fill="#26a69a"/>
<rect x="365.93" y="206.24" width="2.6" height="11.93" fill="#26a69a"/>
<rect x="369.87" y="198.40" width="1.0" height="8.40" fill="#26a69a"/>
<rect x="369.07" y="204.22" width="2.6" height="2.02" fill="#26a69a"/>
<rect x="373.00" y="203.40" width="1.0" height="6.10" fill="#ef5350"/>
<rect x="372.20" y="204.22" width="2.6" height="5.25" fill="#ef5350"/>
<rect x="376.14" y="207.70" width="1.0" height="10.90" fill="#ef5350"/>
<rect x="375.34" y="209.47" width="2.6" height="8.15" fill="#ef5350"/>
<rect x="379.27" y="213.60" width="1.0" height="6.40" fill="#26a69a"/>
<rect x="378.47" y="215.25" width="2.6" height="2.37" fill="#26a69a"/>
<rect x="382.41" y="203.40" width="1.0" height="14.40" fill="#26a69a"/>
<rect x="381.61" y="204.49" width="2.6" height="10.77" fill="#26a69a"/>
<rect x="385.55" y="200.00" width="1.0" height="9.30" fill="#26a69a"/>
<rect x="384.75" y="203.49" width="2.6" height="1.00" fill="#26a69a"/>
<rect x="388.68" y="168.80" width="1.0" height="35.50" fill="#26a69a"/>
<rect x="387.88" y="173.05" width="2.6" height="30.44" fill="#26a69a"/>
<rect x="391.82" y="167.90" width="1.0" height="10.20" fill="#ef5350"/>
<rect x="391.02" y="173.05" width="2.6" height="1.29" fill="#ef5350"/>
<rect x="394.95" y="165.40" width="1.0" height="9.30" fill="#26a69a"/>
<rect x="394.15" y="166.18" width="2.6" height="8.15" fill="#26a69a"/>
<rect x="398.09" y="165.40" width="1.0" height="4.20" fill="#ef5350"/>
<rect x="397.29" y="166.18" width="2.6" height="2.77" fill="#ef5350"/>
<rect x="401.22" y="161.10" width="1.0" height="23.70" fill="#ef5350"/>
<rect x="400.42" y="168.95" width="2.6" height="6.14" fill="#ef5350"/>
<rect x="404.36" y="165.40" width="1.0" height="16.00" fill="#26a69a"/>
<rect x="403.56" y="168.66" width="2.6" height="6.44" fill="#26a69a"/>
<rect x="407.49" y="167.90" width="1.0" height="4.20" fill="#ef5350"/>
<rect x="406.69" y="168.66" width="2.6" height="2.98" fill="#ef5350"/>
<rect x="410.63" y="167.90" width="1.0" height="13.50" fill="#26a69a"/>
<rect x="409.83" y="170.66" width="2.6" height="0.97" fill="#26a69a"/>
<rect x="413.76" y="167.90" width="1.0" height="5.10" fill="#ef5350"/>
<rect x="412.96" y="170.66" width="2.6" height="1.21" fill="#ef5350"/>
<rect x="416.90" y="171.30" width="1.0" height="4.20" fill="#ef5350"/>
<rect x="416.10" y="171.87" width="2.6" height="1.42" fill="#ef5350"/>
<rect x="420.04" y="156.90" width="1.0" height="16.90" fill="#26a69a"/>
<rect x="419.24" y="158.12" width="2.6" height="15.17" fill="#26a69a"/>
<rect x="423.17" y="155.20" width="1.0" height="22.90" fill="#ef5350"/>
<rect x="422.37" y="158.12" width="2.6" height="3.81" fill="#ef5350"/>
<rect x="426.31" y="156.10" width="1.0" height="11.80" fill="#26a69a"/>
<rect x="425.51" y="156.46" width="2.6" height="5.48" fill="#26a69a"/>
<rect x="429.44" y="140.00" width="1.0" height="16.90" fill="#26a69a"/>
<rect x="428.64" y="143.36" width="2.6" height="13.09" fill="#26a69a"/>
<rect x="432.58" y="133.70" width="1.0" height="10.10" fill="#26a69a"/>
<rect x="431.78" y="134.52" width="2.6" height="8.85" fill="#26a69a"/>
<rect x="435.71" y="133.70" width="1.0" height="22.80" fill="#ef5350"/>
<rect x="434.91" y="134.52" width="2.6" height="19.66" fill="#ef5350"/>
<rect x="438.85" y="144.70" width="1.0" height="11.00" fill="#26a69a"/>
<rect x="438.05" y="151.88" width="2.6" height="2.30" fill="#26a69a"/>
<rect x="441.98" y="144.70" width="1.0" height="11.80" fill="#26a69a"/>
<rect x="441.18" y="146.25" width="2.6" height="5.63" fill="#26a69a"/>
<rect x="445.12" y="140.40" width="1.0" height="6.80" fill="#26a69a"/>
<rect x="444.32" y="144.43" width="2.6" height="1.82" fill="#26a69a"/>
<rect x="448.26" y="139.60" width="1.0" height="12.70" fill="#ef5350"/>
<rect x="447.46" y="144.43" width="2.6" height="2.00" fill="#ef5350"/>
<rect x="451.39" y="145.50" width="1.0" height="11.00" fill="#ef5350"/>
<rect x="450.59" y="146.43" width="2.6" height="5.40" fill="#ef5350"/>
<rect x="454.53" y="147.20" width="1.0" height="15.20" fill="#ef5350"/>
<rect x="453.73" y="151.83" width="2.6" height="9.94" fill="#ef5350"/>
<rect x="457.66" y="159.00" width="1.0" height="11.00" fill="#ef5350"/>
<rect x="456.86" y="161.77" width="2.6" height="7.69" fill="#ef5350"/>
<rect x="460.80" y="165.00" width="1.0" height="8.40" fill="#26a69a"/>
<rect x="460.00" y="166.45" width="2.6" height="3.01" fill="#26a69a"/>
<rect x="463.93" y="160.70" width="1.0" height="9.30" fill="#26a69a"/>
<rect x="463.13" y="161.72" width="2.6" height="4.73" fill="#26a69a"/>
<rect x="467.07" y="159.90" width="1.0" height="7.60" fill="#26a69a"/>
<rect x="466.27" y="160.66" width="2.6" height="1.06" fill="#26a69a"/>
<rect x="470.20" y="156.50" width="1.0" height="7.60" fill="#ef5350"/>
<rect x="469.40" y="160.66" width="2.6" height="2.09" fill="#ef5350"/>
<rect x="473.34" y="160.70" width="1.0" height="6.80" fill="#ef5350"/>
<rect x="472.54" y="162.74" width="2.6" height="3.27" fill="#ef5350"/>
<rect x="476.47" y="164.10" width="1.0" height="17.80" fill="#ef5350"/>
<rect x="475.67" y="166.02" width="2.6" height="15.02" fill="#ef5350"/>
<rect x="479.61" y="165.80" width="1.0" height="16.10" fill="#26a69a"/>
<rect x="478.81" y="167.62" width="2.6" height="13.42" fill="#26a69a"/>
<rect x="482.75" y="160.70" width="1.0" height="7.70" fill="#26a69a"/>
<rect x="481.95" y="161.89" width="2.6" height="5.73" fill="#26a69a"/>
<rect x="485.88" y="158.20" width="1.0" height="5.90" fill="#26a69a"/>
<rect x="485.08" y="161.06" width="2.6" height="0.83" fill="#26a69a"/>
<rect x="489.02" y="139.60" width="1.0" height="22.00" fill="#26a69a"/>
<rect x="488.22" y="140.62" width="2.6" height="20.45" fill="#26a69a"/>
<rect x="492.15" y="140.40" width="1.0" height="8.50" fill="#26a69a"/>
<rect x="491.35" y="140.50" width="2.6" height="0.80" fill="#26a69a"/>
<rect x="495.29" y="140.30" width="1.0" height="9.30" fill="#ef5350"/>
<rect x="494.49" y="140.50" width="2.6" height="7.32" fill="#ef5350"/>
<rect x="498.42" y="147.10" width="1.0" height="14.30" fill="#ef5350"/>
<rect x="497.62" y="147.82" width="2.6" height="12.60" fill="#ef5350"/>
<rect x="501.56" y="158.90" width="1.0" height="16.90" fill="#26a69a"/>
<rect x="500.76" y="159.80" width="2.6" height="0.80" fill="#26a69a"/>
<rect x="504.69" y="158.90" width="1.0" height="8.50" fill="#ef5350"/>
<rect x="503.89" y="159.80" width="2.6" height="3.03" fill="#ef5350"/>
<rect x="507.83" y="159.70" width="1.0" height="6.80" fill="#26a69a"/>
<rect x="507.03" y="161.99" width="2.6" height="0.84" fill="#26a69a"/>
<rect x="510.97" y="146.20" width="1.0" height="18.60" fill="#26a69a"/>
<rect x="510.17" y="156.46" width="2.6" height="5.53" fill="#26a69a"/>
<rect x="514.10" y="152.10" width="1.0" height="19.50" fill="#ef5350"/>
<rect x="513.30" y="156.46" width="2.6" height="10.17" fill="#ef5350"/>
<rect x="517.24" y="162.30" width="1.0" height="9.30" fill="#26a69a"/>
<rect x="516.44" y="165.30" width="2.6" height="1.32" fill="#26a69a"/>
<rect x="520.37" y="163.10" width="1.0" height="4.30" fill="#ef5350"/>
<rect x="519.57" y="165.30" width="2.6" height="0.93" fill="#ef5350"/>
<rect x="523.51" y="158.10" width="1.0" height="16.00" fill="#ef5350"/>
<rect x="522.71" y="166.24" width="2.6" height="6.49" fill="#ef5350"/>
<rect x="526.64" y="170.70" width="1.0" height="8.50" fill="#ef5350"/>
<rect x="525.84" y="172.72" width="2.6" height="5.68" fill="#ef5350"/>
<rect x="529.78" y="174.10" width="1.0" height="23.70" fill="#ef5350"/>
<rect x="528.98" y="178.41" width="2.6" height="5.59" fill="#ef5350"/>
<rect x="532.91" y="159.70" width="1.0" height="29.60" fill="#26a69a"/>
<rect x="532.11" y="163.20" width="2.6" height="20.80" fill="#26a69a"/>
<rect x="536.05" y="158.90" width="1.0" height="5.90" fill="#26a69a"/>
<rect x="535.25" y="159.72" width="2.6" height="3.48" fill="#26a69a"/>
<rect x="539.18" y="150.40" width="1.0" height="10.20" fill="#26a69a"/>
<rect x="538.38" y="153.94" width="2.6" height="5.78" fill="#26a69a"/>
<rect x="542.32" y="149.60" width="1.0" height="8.50" fill="#ef5350"/>
<rect x="541.52" y="153.94" width="2.6" height="1.80" fill="#ef5350"/>
<rect x="545.46" y="152.10" width="1.0" height="5.10" fill="#26a69a"/>
<rect x="544.66" y="155.28" width="2.6" height="0.80" fill="#26a69a"/>
<rect x="548.59" y="153.00" width="1.0" height="3.40" fill="#26a69a"/>
<rect x="547.79" y="154.14" width="2.6" height="1.14" fill="#26a69a"/>
<rect x="551.73" y="147.90" width="1.0" height="7.60" fill="#26a69a"/>
<rect x="550.93" y="149.32" width="2.6" height="4.82" fill="#26a69a"/>
<rect x="554.86" y="147.90" width="1.0" height="8.50" fill="#ef5350"/>
<rect x="554.06" y="149.32" width="2.6" height="5.51" fill="#ef5350"/>
<rect x="558.00" y="153.80" width="1.0" height="9.30" fill="#ef5350"/>
<rect x="557.20" y="154.83" width="2.6" height="6.76" fill="#ef5350"/>
<rect x="561.13" y="143.70" width="1.0" height="20.30" fill="#26a69a"/>
<rect x="560.33" y="147.09" width="2.6" height="14.50" fill="#26a69a"/>
<rect x="564.27" y="139.50" width="1.0" height="8.40" fill="#26a69a"/>
<rect x="563.47" y="143.79" width="2.6" height="3.30" fill="#26a69a"/>
<rect x="567.40" y="143.70" width="1.0" height="8.40" fill="#ef5350"/>
<rect x="566.60" y="143.79" width="2.6" height="7.22" fill="#ef5350"/>
<rect x="570.54" y="149.60" width="1.0" height="2.50" fill="#26a69a"/>
<rect x="569.74" y="150.03" width="2.6" height="0.97" fill="#26a69a"/>
<rect x="573.68" y="144.50" width="1.0" height="7.60" fill="#26a69a"/>
<rect x="572.88" y="145.49" width="2.6" height="4.54" fill="#26a69a"/>
<rect x="576.81" y="144.50" width="1.0" height="8.50" fill="#ef5350"/>
<rect x="576.01" y="145.49" width="2.6" height="4.25" fill="#ef5350"/>
<rect x="579.95" y="145.40" width="1.0" height="8.40" fill="#26a69a"/>
<rect x="579.15" y="146.76" width="2.6" height="2.98" fill="#26a69a"/>
<rect x="583.08" y="133.40" width="1.0" height="14.40" fill="#26a69a"/>
<rect x="582.28" y="136.46" width="2.6" height="10.30" fill="#26a69a"/>
<rect x="586.22" y="112.30" width="1.0" height="25.40" fill="#26a69a"/>
<rect x="585.42" y="115.92" width="2.6" height="20.54" fill="#26a69a"/>
<rect x="589.35" y="103.80" width="1.0" height="15.20" fill="#26a69a"/>
<rect x="588.55" y="109.49" width="2.6" height="6.43" fill="#26a69a"/>
<rect x="592.49" y="108.10" width="1.0" height="3.30" fill="#ef5350"/>
<rect x="591.69" y="109.49" width="2.6" height="0.80" fill="#ef5350"/>
<rect x="595.62" y="101.30" width="1.0" height="9.30" fill="#26a69a"/>
<rect x="594.82" y="102.98" width="2.6" height="6.85" fill="#26a69a"/>
<rect x="598.76" y="86.10" width="1.0" height="17.70" fill="#26a69a"/>
<rect x="597.96" y="99.88" width="2.6" height="3.10" fill="#26a69a"/>
<rect x="601.89" y="99.60" width="1.0" height="16.90" fill="#ef5350"/>
<rect x="601.10" y="99.88" width="2.6" height="8.61" fill="#ef5350"/>
<rect x="605.03" y="103.00" width="1.0" height="6.70" fill="#26a69a"/>
<rect x="604.23" y="104.86" width="2.6" height="3.62" fill="#26a69a"/>
<rect x="608.17" y="95.40" width="1.0" height="14.30" fill="#26a69a"/>
<rect x="607.37" y="102.60" width="2.6" height="2.26" fill="#26a69a"/>
<rect x="611.30" y="96.40" width="1.0" height="16.00" fill="#ef5350"/>
<rect x="610.50" y="102.60" width="2.6" height="5.19" fill="#ef5350"/>
<rect x="614.44" y="105.70" width="1.0" height="4.20" fill="#ef5350"/>
<rect x="613.64" y="107.79" width="2.6" height="0.80" fill="#ef5350"/>
<rect x="617.57" y="107.40" width="1.0" height="4.20" fill="#ef5350"/>
<rect x="616.77" y="108.14" width="2.6" height="2.40" fill="#ef5350"/>
<rect x="620.71" y="101.40" width="1.0" height="12.70" fill="#26a69a"/>
<rect x="619.91" y="110.06" width="2.6" height="0.80" fill="#26a69a"/>
<rect x="623.84" y="98.10" width="1.0" height="17.70" fill="#26a69a"/>
<rect x="623.04" y="99.41" width="2.6" height="10.65" fill="#26a69a"/>
<rect x="626.98" y="98.90" width="1.0" height="6.80" fill="#ef5350"/>
<rect x="626.18" y="99.41" width="2.6" height="4.95" fill="#ef5350"/>
<rect x="630.11" y="103.10" width="1.0" height="4.30" fill="#ef5350"/>
<rect x="629.31" y="104.36" width="2.6" height="1.70" fill="#ef5350"/>
<rect x="633.25" y="104.00" width="1.0" height="16.90" fill="#ef5350"/>
<rect x="632.45" y="106.06" width="2.6" height="2.93" fill="#ef5350"/>
<rect x="636.39" y="107.40" width="1.0" height="3.30" fill="#26a69a"/>
<rect x="635.59" y="107.69" width="2.6" height="1.30" fill="#26a69a"/>
<rect x="639.52" y="100.60" width="1.0" height="7.60" fill="#26a69a"/>
<rect x="638.72" y="101.49" width="2.6" height="6.21" fill="#26a69a"/>
<rect x="642.66" y="100.60" width="1.0" height="9.30" fill="#ef5350"/>
<rect x="641.86" y="101.49" width="2.6" height="5.73" fill="#ef5350"/>
<rect x="645.79" y="103.10" width="1.0" height="7.60" fill="#ef5350"/>
<rect x="644.99" y="107.21" width="2.6" height="0.80" fill="#ef5350"/>
<rect x="648.93" y="104.00" width="1.0" height="11.80" fill="#ef5350"/>
<rect x="648.13" y="107.68" width="2.6" height="0.80" fill="#ef5350"/>
<rect x="652.06" y="104.00" width="1.0" height="13.50" fill="#ef5350"/>
<rect x="651.26" y="108.14" width="2.6" height="8.72" fill="#ef5350"/>
<rect x="655.20" y="116.70" width="1.0" height="14.30" fill="#ef5350"/>
<rect x="654.40" y="116.86" width="2.6" height="10.57" fill="#ef5350"/>
<rect x="658.33" y="124.30" width="1.0" height="8.40" fill="#ef5350"/>
<rect x="657.53" y="127.43" width="2.6" height="3.26" fill="#ef5350"/>
<rect x="661.47" y="121.70" width="1.0" height="11.00" fill="#26a69a"/>
<rect x="660.67" y="123.50" width="2.6" height="7.19" fill="#26a69a"/>
<rect x="664.61" y="117.50" width="1.0" height="6.80" fill="#26a69a"/>
<rect x="663.81" y="119.86" width="2.6" height="3.64" fill="#26a69a"/>
<rect x="667.74" y="118.40" width="1.0" height="10.90" fill="#ef5350"/>
<rect x="666.94" y="119.86" width="2.6" height="4.32" fill="#ef5350"/>
<rect x="670.88" y="117.50" width="1.0" height="8.50" fill="#26a69a"/>
<rect x="670.08" y="120.15" width="2.6" height="4.04" fill="#26a69a"/>
<rect x="674.01" y="109.00" width="1.0" height="13.60" fill="#26a69a"/>
<rect x="673.21" y="109.67" width="2.6" height="10.48" fill="#26a69a"/>
<rect x="677.15" y="109.00" width="1.0" height="6.80" fill="#ef5350"/>
<rect x="676.35" y="109.67" width="2.6" height="3.35" fill="#ef5350"/>
<rect x="680.28" y="108.20" width="1.0" height="6.80" fill="#ef5350"/>
<rect x="679.48" y="113.02" width="2.6" height="0.89" fill="#ef5350"/>
<rect x="683.42" y="101.40" width="1.0" height="13.60" fill="#26a69a"/>
<rect x="682.62" y="102.12" width="2.6" height="11.79" fill="#26a69a"/>
<rect x="686.55" y="89.60" width="1.0" height="16.90" fill="#ef5350"/>
<rect x="685.75" y="102.12" width="2.6" height="2.51" fill="#ef5350"/>
<rect x="689.69" y="98.10" width="1.0" height="8.40" fill="#26a69a"/>
<rect x="688.89" y="98.68" width="2.6" height="5.95" fill="#26a69a"/>
<rect x="692.82" y="84.50" width="1.0" height="15.20" fill="#26a69a"/>
<rect x="692.02" y="85.89" width="2.6" height="12.79" fill="#26a69a"/>
<rect x="695.96" y="81.10" width="1.0" height="26.30" fill="#ef5350"/>
<rect x="695.16" y="85.89" width="2.6" height="20.36" fill="#ef5350"/>
<rect x="699.10" y="103.10" width="1.0" height="9.30" fill="#ef5350"/>
<rect x="698.30" y="106.25" width="2.6" height="3.97" fill="#ef5350"/>
<rect x="702.23" y="109.00" width="1.0" height="1.70" fill="#26a69a"/>
<rect x="701.43" y="110.06" width="2.6" height="0.80" fill="#26a69a"/>
<rect x="705.37" y="105.70" width="1.0" height="5.00" fill="#26a69a"/>
<rect x="704.57" y="109.95" width="2.6" height="0.80" fill="#26a69a"/>
<rect x="708.50" y="109.00" width="1.0" height="11.00" fill="#ef5350"/>
<rect x="707.70" y="109.95" width="2.6" height="4.95" fill="#ef5350"/>
<rect x="711.64" y="110.70" width="1.0" height="19.50" fill="#ef5350"/>
<rect x="710.84" y="114.90" width="2.6" height="14.37" fill="#ef5350"/>
<rect x="714.77" y="121.70" width="1.0" height="9.30" fill="#26a69a"/>
<rect x="713.97" y="123.23" width="2.6" height="6.04" fill="#26a69a"/>
<rect x="717.91" y="122.60" width="1.0" height="9.30" fill="#ef5350"/>
<rect x="717.11" y="123.23" width="2.6" height="7.67" fill="#ef5350"/>
<rect x="721.04" y="109.50" width="1.0" height="25.30" fill="#26a69a"/>
<rect x="720.24" y="111.92" width="2.6" height="18.98" fill="#26a69a"/>
<rect x="724.18" y="111.10" width="1.0" height="7.70" fill="#ef5350"/>
<rect x="723.38" y="111.92" width="2.6" height="6.32" fill="#ef5350"/>
<rect x="727.31" y="117.90" width="1.0" height="10.20" fill="#ef5350"/>
<rect x="726.51" y="118.25" width="2.6" height="8.34" fill="#ef5350"/>
<rect x="730.45" y="126.40" width="1.0" height="18.60" fill="#ef5350"/>
<rect x="729.65" y="126.59" width="2.6" height="14.84" fill="#ef5350"/>
<rect x="733.59" y="132.30" width="1.0" height="15.20" fill="#26a69a"/>
<rect x="732.79" y="134.12" width="2.6" height="7.31" fill="#26a69a"/>
<rect x="736.72" y="129.70" width="1.0" height="11.90" fill="#ef5350"/>
<rect x="735.92" y="134.12" width="2.6" height="2.20" fill="#ef5350"/>
<rect x="739.86" y="128.10" width="1.0" height="9.30" fill="#26a69a"/>
<rect x="739.06" y="130.62" width="2.6" height="5.71" fill="#26a69a"/>
<rect x="742.99" y="130.60" width="1.0" height="22.00" fill="#ef5350"/>
<rect x="742.19" y="130.62" width="2.6" height="18.60" fill="#ef5350"/>
<rect x="746.13" y="146.70" width="1.0" height="6.70" fill="#26a69a"/>
<rect x="745.33" y="147.24" width="2.6" height="1.98" fill="#26a69a"/>
<rect x="749.26" y="145.00" width="1.0" height="5.90" fill="#ef5350"/>
<rect x="748.46" y="147.24" width="2.6" height="2.58" fill="#ef5350"/>
<rect x="752.40" y="144.10" width="1.0" height="10.20" fill="#26a69a"/>
<rect x="751.60" y="145.34" width="2.6" height="4.47" fill="#26a69a"/>
<rect x="755.53" y="134.80" width="1.0" height="11.00" fill="#26a69a"/>
<rect x="754.73" y="136.42" width="2.6" height="8.92" fill="#26a69a"/>
<rect x="758.67" y="131.40" width="1.0" height="7.60" fill="#26a69a"/>
<rect x="757.87" y="134.38" width="2.6" height="2.05" fill="#26a69a"/>
<rect x="761.81" y="133.10" width="1.0" height="11.00" fill="#ef5350"/>
<rect x="761.01" y="134.38" width="2.6" height="4.30" fill="#ef5350"/>
<rect x="764.94" y="127.20" width="1.0" height="13.50" fill="#ef5350"/>
<rect x="764.14" y="138.68" width="2.6" height="0.80" fill="#ef5350"/>
<rect x="768.08" y="138.20" width="1.0" height="3.40" fill="#ef5350"/>
<rect x="767.28" y="138.99" width="2.6" height="2.10" fill="#ef5350"/>
<rect x="771.21" y="136.50" width="1.0" height="5.10" fill="#26a69a"/>
<rect x="770.41" y="136.88" width="2.6" height="4.21" fill="#26a69a"/>
<rect x="774.35" y="128.90" width="1.0" height="8.50" fill="#26a69a"/>
<rect x="773.55" y="132.80" width="2.6" height="4.08" fill="#26a69a"/>
<rect x="777.48" y="132.30" width="1.0" height="5.10" fill="#ef5350"/>
<rect x="776.68" y="132.80" width="2.6" height="2.28" fill="#ef5350"/>
<rect x="780.62" y="123.80" width="1.0" height="12.70" fill="#26a69a"/>
<rect x="779.82" y="124.57" width="2.6" height="10.51" fill="#26a69a"/>
<rect x="783.75" y="117.90" width="1.0" height="8.50" fill="#26a69a"/>
<rect x="782.95" y="118.06" width="2.6" height="6.51" fill="#26a69a"/>
<rect x="786.89" y="112.80" width="1.0" height="6.00" fill="#26a69a"/>
<rect x="786.09" y="115.74" width="2.6" height="2.32" fill="#26a69a"/>
<rect x="790.02" y="114.50" width="1.0" height="4.30" fill="#ef5350"/>
<rect x="789.23" y="115.74" width="2.6" height="0.80" fill="#ef5350"/>
<rect x="793.16" y="115.40" width="1.0" height="4.20" fill="#ef5350"/>
<rect x="792.36" y="116.07" width="2.6" height="2.90" fill="#ef5350"/>
<rect x="796.30" y="112.00" width="1.0" height="10.10" fill="#26a69a"/>
<rect x="795.50" y="118.62" width="2.6" height="0.80" fill="#26a69a"/>
<rect x="799.43" y="112.00" width="1.0" height="9.30" fill="#26a69a"/>
<rect x="798.63" y="112.54" width="2.6" height="6.08" fill="#26a69a"/>
<rect x="802.57" y="112.00" width="1.0" height="9.30" fill="#ef5350"/>
<rect x="801.77" y="112.54" width="2.6" height="1.34" fill="#ef5350"/>
<rect x="805.70" y="107.80" width="1.0" height="6.70" fill="#26a69a"/>
<rect x="804.90" y="111.07" width="2.6" height="2.81" fill="#26a69a"/>
<rect x="808.84" y="110.30" width="1.0" height="8.50" fill="#ef5350"/>
<rect x="808.04" y="111.07" width="2.6" height="6.11" fill="#ef5350"/>
<rect x="811.97" y="116.20" width="1.0" height="2.60" fill="#26a69a"/>
<rect x="811.17" y="117.04" width="2.6" height="0.80" fill="#26a69a"/>
<rect x="815.11" y="117.04" width="1.0" height="2.56" fill="#ef5350"/>
<rect x="814.31" y="117.04" width="2.6" height="1.76" fill="#ef5350"/>
<rect x="818.24" y="118.80" width="1.0" height="14.30" fill="#ef5350"/>
<rect x="817.44" y="118.81" width="2.6" height="11.01" fill="#ef5350"/>
<rect x="821.38" y="129.70" width="1.0" height="4.30" fill="#ef5350"/>
<rect x="820.58" y="129.81" width="2.6" height="3.21" fill="#ef5350"/>
<rect x="824.52" y="125.50" width="1.0" height="11.00" fill="#26a69a"/>
<rect x="823.72" y="127.30" width="2.6" height="5.72" fill="#26a69a"/>
<rect x="827.65" y="127.20" width="1.0" height="20.30" fill="#ef5350"/>
<rect x="826.85" y="127.30" width="2.6" height="19.14" fill="#ef5350"/>
<rect x="830.79" y="143.30" width="1.0" height="4.20" fill="#26a69a"/>
<rect x="829.99" y="143.52" width="2.6" height="2.91" fill="#26a69a"/>
<rect x="833.92" y="142.80" width="1.0" height="3.00" fill="#ef5350"/>
<rect x="833.12" y="143.52" width="2.6" height="0.80" fill="#ef5350"/>
<rect x="837.06" y="132.30" width="1.0" height="12.70" fill="#26a69a"/>
<rect x="836.26" y="132.37" width="2.6" height="11.19" fill="#26a69a"/>
<rect x="840.19" y="123.00" width="1.0" height="11.80" fill="#26a69a"/>
<rect x="839.39" y="123.06" width="2.6" height="9.31" fill="#26a69a"/>
<rect x="843.33" y="121.30" width="1.0" height="9.10" fill="#ef5350"/>
<rect x="842.53" y="123.06" width="2.6" height="5.35" fill="#ef5350"/>
</g>
<line x1="7" y1="128.50" x2="966" y2="128.50" stroke="#f23645" stroke-width="1" stroke-dasharray="1.2,1.3" opacity="0.5"/>
<text x="871.8" y="58.11" font-size="8.0" fill="#5a7ff0" stroke="#5a7ff0" stroke-width="0.22" textLength="71.32" lengthAdjust="spacingAndGlyphs">1.618 (131,260.67)</text>
<text x="871.8" y="85.63" font-size="8.0" fill="#f05d68" stroke="#f05d68" stroke-width="0.22" textLength="71.32" lengthAdjust="spacingAndGlyphs">1.414 (124,102.80)</text>
<text x="871.8" y="105.74" font-size="8.0" fill="#ffa43a" stroke="#ffa43a" stroke-width="0.22" textLength="70.69" lengthAdjust="spacingAndGlyphs">1.272 (119,120.37)</text>
<text x="871.8" y="146.72" font-size="8.0" fill="#787b86" stroke="#787b86" stroke-width="0.22" textLength="54.90" lengthAdjust="spacingAndGlyphs">1 (109,576.55)</text>
<text x="871.8" y="181.56" font-size="8.0" fill="#22b5d6" stroke="#22b5d6" stroke-width="0.22" textLength="71.32" lengthAdjust="spacingAndGlyphs">0.786 (102,067.81)</text>
<text x="871.8" y="210.75" font-size="8.0" fill="#26998a" stroke="#26998a" stroke-width="0.22" textLength="66.63" lengthAdjust="spacingAndGlyphs">0.618 (96,173.10)</text>
<text x="871.8" y="232.35" font-size="8.0" fill="#6cb46e" stroke="#6cb46e" stroke-width="0.22" textLength="57.24" lengthAdjust="spacingAndGlyphs">0.5 (92,032.76)</text>
<text x="871.8" y="254.94" font-size="8.0" fill="#ffa43a" stroke="#ffa43a" stroke-width="0.22" textLength="66.63" lengthAdjust="spacingAndGlyphs">0.382 (87,892.43)</text>
<text x="871.8" y="284.41" font-size="8.0" fill="#f05d68" stroke="#f05d68" stroke-width="0.22" textLength="66.63" lengthAdjust="spacingAndGlyphs">0.236 (82,769.64)</text>
<text x="871.8" y="336.14" font-size="8.0" fill="#787b86" stroke="#787b86" stroke-width="0.22" textLength="50.20" lengthAdjust="spacingAndGlyphs">0 (74,488.98)</text>
<g clip-path="url(#cr)" fill="none" stroke-linejoin="round">
<polyline points="6.65,383.11 9.79,383.08 12.92,383.20 16.06,383.51 19.19,383.62 22.33,383.75 25.46,383.88 28.60,384.02 31.73,383.95 34.87,383.55 38.01,383.21 41.14,382.59 44.28,381.95 47.41,381.66 50.55,381.84 53.68,381.27 56.82,380.80 59.95,380.16 63.09,379.63 66.22,379.12 69.36,378.82 72.50,378.56 75.63,378.56 78.77,378.64 81.90,378.61 85.04,379.05 88.17,379.69 91.31,380.26 94.44,380.58 97.58,381.41 100.72,382.11 103.85,382.84 106.99,383.66 110.12,384.50 113.26,385.11 116.39,385.53 119.53,386.05 122.66,386.54 125.80,387.27 128.93,387.59 132.07,387.69 135.21,387.67 138.34,388.11 141.48,388.25 144.61,388.09 147.75,387.64 150.88,387.52 154.02,387.31 157.15,387.16 160.29,387.69 163.43,388.28 166.56,389.49 169.70,390.51 172.83,391.73 175.97,392.65 179.10,392.20 182.24,392.40 185.37,392.45 188.51,392.38 191.64,392.69 194.78,392.89 197.92,393.23 201.05,393.92 204.19,394.08 207.32,393.44 210.46,392.40 213.59,391.67 216.73,390.64 219.86,389.93 223.00,390.45 226.13,390.15 229.27,390.07 232.41,389.91 235.54,389.91 238.68,389.69 241.81,389.45 244.95,388.63 248.08,387.60 251.22,387.01 254.35,386.55 257.49,385.91 260.63,385.82 263.76,385.91 266.90,385.91 270.03,386.02 273.17,385.71 276.30,386.02 279.44,386.06 282.57,386.00 285.71,385.96 288.84,386.62 291.98,387.29 295.12,388.19 298.25,388.33 301.39,388.74 304.52,388.49 307.66,387.92 310.79,387.47 313.93,386.99 317.06,386.92 320.20,386.55 323.34,386.17 326.47,385.94 329.61,385.60 332.74,384.79 335.88,383.90 339.01,382.42 342.15,381.58 345.28,380.56 348.42,379.79 351.55,379.16 354.69,378.56 357.83,377.93 360.96,377.36 364.10,376.84 367.23,376.23 370.37,375.57 373.50,375.11 376.64,374.87 379.77,374.75 382.91,374.81 386.05,374.86 389.18,374.60 392.32,374.41 395.45,374.14 398.59,373.86 401.72,373.81 404.86,373.60 407.99,373.46 411.13,373.45 414.26,373.49 417.40,373.45 420.54,373.02 423.67,372.75 426.81,372.56 429.94,372.24 433.08,372.15 436.21,372.51 439.35,372.92 442.48,373.19 445.62,373.27 448.76,373.48 451.89,373.75 455.03,374.26 458.16,374.89 461.30,375.43 464.43,376.10 467.57,376.63 470.70,377.31 473.84,378.25 476.97,379.66 480.11,380.17 483.25,380.60 486.38,381.11 489.52,381.25 492.65,381.33 495.79,381.44 498.92,381.59 502.06,381.54 505.19,381.63 508.33,381.81 511.47,381.88 514.60,382.14 517.74,382.28 520.87,382.06 524.01,382.35 527.14,382.92 530.28,383.65 533.41,384.21 536.55,384.69 539.68,384.80 542.82,384.61 545.96,384.43 549.09,384.14 552.23,383.74 555.36,383.69 558.50,383.58 561.63,383.13 564.77,382.58 567.90,382.10 571.04,381.47 574.18,380.63 577.31,380.50 580.45,380.36 583.58,380.12 586.72,379.48 589.85,378.78 592.99,378.13 596.12,377.52 599.26,376.73 602.39,376.06 605.53,375.66 608.67,375.30 611.80,374.92 614.94,374.58 618.07,374.41 621.21,374.12 624.34,373.71 627.48,373.65 630.61,373.94 633.75,374.40 636.89,374.83 640.02,375.20 643.16,375.82 646.29,376.18 649.43,376.61 652.56,377.38 655.70,378.28 658.83,379.26 661.97,379.94 665.11,380.53 668.24,381.49 671.38,382.13 674.51,382.38 677.65,382.63 680.78,382.95 683.92,383.11 687.05,383.11 690.19,382.93 693.32,382.46 696.46,382.30 699.60,381.91 702.73,381.44 705.87,381.22 709.00,381.27 712.14,381.51 715.27,381.72 718.41,382.41 721.54,382.51 724.68,382.72 727.81,383.45 730.95,384.37 734.09,385.29 737.22,386.60 740.36,387.02 743.49,387.70 746.63,388.33 749.76,389.04 752.90,389.43 756.03,389.14 759.17,389.00 762.31,388.78 765.44,389.15 768.58,389.41 771.71,389.31 774.85,388.74 777.98,388.48 781.12,387.81 784.25,387.13 787.39,386.06 790.52,385.08 793.66,384.20 796.80,383.46 799.93,382.78 803.07,382.22 806.20,381.51 809.34,381.05 812.47,380.55 815.61,380.24 818.74,380.43 821.88,380.65 825.02,380.94 828.15,381.87 831.29,382.79 834.42,383.71 837.56,384.14 840.69,384.30 843.83,384.82" stroke="#f7dc4a" stroke-width="1"/>
<polyline points="6.65,376.52 9.79,383.18 12.92,385.42 16.06,388.37 19.19,385.38 22.33,385.53 25.46,385.60 28.60,385.66 31.73,382.73 34.87,378.48 38.01,379.16 41.14,375.82 44.28,375.49 47.41,379.60 50.55,378.76 53.68,375.78 56.82,378.66 59.95,378.49 63.09,377.72 66.22,377.86 69.36,380.68 72.50,381.53 75.63,382.64 78.77,379.70 81.90,378.65 85.04,382.02 88.17,384.61 91.31,388.72 94.44,383.27 97.58,387.60 100.72,389.11 103.85,389.14 106.99,389.23 110.12,389.30 113.26,389.26 116.39,387.27 119.53,390.03 122.66,385.77 125.80,387.77 128.93,386.04 132.07,385.90 135.21,388.41 138.34,389.15 141.48,389.60 144.61,386.80 147.75,383.24 150.88,387.42 154.02,386.40 157.15,387.01 160.29,395.70 163.43,400.34 166.56,406.81 169.70,404.91 172.83,405.44 175.97,398.86 179.10,383.24 182.24,391.76 185.37,390.21 188.51,386.03 191.64,386.70 194.78,389.89 197.92,390.49 201.05,396.03 204.19,398.10 207.32,390.88 210.46,389.86 213.59,392.39 216.73,388.39 219.86,387.92 223.00,389.73 226.13,387.67 229.27,389.13 232.41,384.05 235.54,386.79 238.68,386.92 241.81,387.16 244.95,384.30 248.08,382.67 251.22,382.80 254.35,383.44 257.49,383.07 260.63,386.99 263.76,389.38 266.90,389.74 270.03,389.30 273.17,384.63 276.30,388.47 279.44,387.36 282.57,386.05 285.71,386.59 288.84,394.43 291.98,392.07 295.12,396.13 298.25,385.10 301.39,388.38 304.52,383.81 307.66,381.97 310.79,383.68 313.93,382.78 317.06,383.79 320.20,383.36 323.34,382.34 326.47,382.93 329.61,382.15 332.74,382.00 335.88,379.18 339.01,374.41 342.15,374.25 345.28,374.07 348.42,373.63 351.55,373.64 354.69,375.07 357.83,374.05 360.96,375.32 364.10,375.47 367.23,373.46 370.37,373.15 373.50,375.06 376.64,377.97 379.77,377.42 382.91,375.17 386.05,374.98 389.18,370.68 392.32,371.10 395.45,370.22 398.59,371.18 401.72,373.33 404.86,372.39 407.99,373.47 411.13,373.31 414.26,373.79 417.40,374.40 420.54,371.74 423.67,373.27 426.81,372.35 429.94,370.52 433.08,369.52 436.21,376.38 439.35,375.95 442.48,374.93 445.62,374.60 448.76,375.35 451.89,377.43 455.03,381.12 458.16,383.86 461.30,382.82 464.43,381.27 467.57,380.92 470.70,381.78 473.84,383.18 476.97,389.20 480.11,383.60 483.25,381.71 486.38,381.45 489.52,376.25 492.65,376.23 495.79,378.91 498.92,383.28 502.06,383.07 505.19,384.17 508.33,383.85 511.47,381.82 514.60,385.74 517.74,385.18 520.87,385.57 524.01,388.27 527.14,390.59 530.28,392.86 533.41,383.10 536.55,381.95 539.68,380.17 542.82,380.86 545.96,380.71 549.09,380.32 552.23,378.70 555.36,381.20 558.50,384.20 561.63,379.05 564.77,378.12 567.90,381.08 571.04,380.75 574.18,379.24 577.31,381.11 580.45,380.04 583.58,376.89 586.72,372.74 589.85,371.79 592.99,371.93 596.12,370.94 599.26,370.52 602.39,374.10 605.53,373.42 608.67,373.00 611.80,375.28 614.94,375.44 618.07,376.58 621.21,376.44 624.34,373.71 627.48,376.09 630.61,376.92 633.75,378.40 636.89,377.95 640.02,375.94 643.16,378.93 646.29,379.18 649.43,379.44 652.56,384.32 655.70,389.64 658.83,391.21 661.97,386.63 665.11,384.69 668.24,386.80 671.38,384.59 674.51,380.07 677.65,381.65 680.78,382.09 683.92,377.76 687.05,378.95 690.19,377.06 693.32,373.93 696.46,381.99 699.60,383.41 702.73,383.36 705.87,383.31 709.00,385.39 712.14,391.04 715.27,387.96 718.41,390.79 721.54,383.05 724.68,385.14 727.81,387.86 730.95,392.40 734.09,389.23 737.22,389.91 740.36,387.52 743.49,393.11 746.63,392.18 749.76,392.97 752.90,390.76 756.03,386.94 759.17,386.14 762.31,387.63 765.44,387.74 768.58,388.55 771.71,386.48 774.85,384.64 777.98,385.61 781.12,381.32 784.25,379.21 787.39,378.51 790.52,378.66 793.66,380.04 796.80,379.91 799.93,377.72 803.07,378.42 806.20,377.42 809.34,380.73 812.47,380.67 815.61,381.70 818.74,387.77 821.88,389.44 825.02,385.75 828.15,394.57 831.29,392.50 834.42,392.52 837.56,385.83 840.69,381.90 843.83,384.15" stroke="#7e57c2" stroke-width="1"/>
</g>
<line x1="966.5" y1="19" x2="966.5" y2="430.5" stroke="#8b8e96" stroke-width="1"/>
<line x1="7" y1="411.5" x2="1017" y2="411.5" stroke="#a0a2a8" stroke-width="1"/>
<rect x="969.5" y="21.5" width="44.5" height="18" rx="2" fill="#fff" stroke="#f0f1f4"/>
<text x="976.00" y="33.30" font-size="8.2" fill="#131722" font-weight="normal" stroke="#131722" stroke-width="0.22" textLength="19.50" lengthAdjust="spacingAndGlyphs">USDT</text>
<text x="972.80" y="54.75" font-size="7.6" fill="#4a4d56" font-weight="normal" stroke="#4a4d56" stroke-width="0.1" textLength="38.03" lengthAdjust="spacingAndGlyphs">132,000.00</text>
<text x="972.80" y="85.43" font-size="7.6" fill="#4a4d56" font-weight="normal" stroke="#4a4d56" stroke-width="0.1" textLength="38.03" lengthAdjust="spacingAndGlyphs">124,000.00</text>
<text x="972.80" y="118.16" font-size="7.6" fill="#4a4d56" font-weight="normal" stroke="#4a4d56" stroke-width="0.1" textLength="37.47" lengthAdjust="spacingAndGlyphs">116,000.00</text>
<text x="972.80" y="153.23" font-size="7.6" fill="#4a4d56" font-weight="normal" stroke="#4a4d56" stroke-width="0.1" textLength="38.03" lengthAdjust="spacingAndGlyphs">108,000.00</text>
<text x="972.80" y="176.49" font-size="7.6" fill="#4a4d56" font-weight="normal" stroke="#4a4d56" stroke-width="0.1" textLength="38.03" lengthAdjust="spacingAndGlyphs">103,000.00</text>
<text x="972.80" y="205.95" font-size="7.6" fill="#4a4d56" font-weight="normal" stroke="#4a4d56" stroke-width="0.1" textLength="33.81" lengthAdjust="spacingAndGlyphs">97,000.00</text>
<text x="972.80" y="226.62" font-size="7.6" fill="#4a4d56" font-weight="normal" stroke="#4a4d56" stroke-width="0.1" textLength="33.81" lengthAdjust="spacingAndGlyphs">93,000.00</text>
<text x="972.80" y="248.19" font-size="7.6" fill="#4a4d56" font-weight="normal" stroke="#4a4d56" stroke-width="0.1" textLength="33.81" lengthAdjust="spacingAndGlyphs">89,000.00</text>
<text x="972.80" y="270.76" font-size="7.6" fill="#4a4d56" font-weight="normal" stroke="#4a4d56" stroke-width="0.1" textLength="33.81" lengthAdjust="spacingAndGlyphs">85,000.00</text>
<text x="972.80" y="294.41" font-size="7.6" fill="#4a4d56" font-weight="normal" stroke="#4a4d56" stroke-width="0.1" textLength="33.81" lengthAdjust="spacingAndGlyphs">81,000.00</text>
<text x="972.80" y="319.27" font-size="7.6" fill="#4a4d56" font-weight="normal" stroke="#4a4d56" stroke-width="0.1" textLength="33.81" lengthAdjust="spacingAndGlyphs">77,000.00</text>
<text x="972.80" y="342.10" font-size="7.6" fill="#4a4d56" font-weight="normal" stroke="#4a4d56" stroke-width="0.1" textLength="33.81" lengthAdjust="spacingAndGlyphs">73,500.00</text>
<text x="972.80" y="362.55" font-size="7.6" fill="#4a4d56" font-weight="normal" stroke="#4a4d56" stroke-width="0.1" textLength="33.81" lengthAdjust="spacingAndGlyphs">70,500.00</text>
<clipPath id="c80"><rect x="966" y="366.9" width="52" height="40"/></clipPath>
<g clip-path="url(#c80)"><text x="972.80" y="371.30" font-size="7.6" fill="#4a4d56" font-weight="normal" stroke="#4a4d56" stroke-width="0.22" textLength="19.02" lengthAdjust="spacingAndGlyphs">80.00</text></g>
<text x="972.80" y="394.20" font-size="7.6" fill="#4a4d56" font-weight="normal" stroke="#4a4d56" stroke-width="0.22" textLength="19.02" lengthAdjust="spacingAndGlyphs">40.00</text>
<rect x="966.3" y="123.1" width="47.6" height="19.3" rx="1.5" fill="#ef5350"/>
<text x="973.30" y="131.00" font-size="7.5" fill="#fff" font-weight="normal" stroke="#fff" stroke-width="0.22" textLength="37.10" lengthAdjust="spacingAndGlyphs">113,071.64</text>
<text x="973.30" y="139.70" font-size="7.5" fill="#fff" font-weight="normal" stroke="#fff" stroke-width="0.22" textLength="28.70" lengthAdjust="spacingAndGlyphs">12:01:20</text>
<rect x="929.6" y="123.1" width="38" height="10.7" rx="1.5" fill="#ef5350"/>
<text x="932.20" y="131.20" font-size="7.2" fill="#fff" font-weight="normal" stroke="#fff" stroke-width="0.22" textLength="30.90" lengthAdjust="spacingAndGlyphs">BTCUSDT</text>
<text x="81.11" y="424.00" font-size="8.2" fill="#4a4d56" font-weight="normal" stroke="#4a4d56" stroke-width="0.18" textLength="14.13" lengthAdjust="spacingAndGlyphs">Feb</text>
<text x="168.91" y="424.00" font-size="8.2" fill="#4a4d56" font-weight="normal" stroke="#4a4d56" stroke-width="0.18" textLength="14.12" lengthAdjust="spacingAndGlyphs">Mar</text>
<text x="266.79" y="424.00" font-size="8.2" fill="#4a4d56" font-weight="normal" stroke="#4a4d56" stroke-width="0.18" textLength="12.76" lengthAdjust="spacingAndGlyphs">Apr</text>
<text x="359.49" y="424.00" font-size="8.2" fill="#4a4d56" font-weight="normal" stroke="#4a4d56" stroke-width="0.18" textLength="15.49" lengthAdjust="spacingAndGlyphs">May</text>
<text x="457.82" y="424.00" font-size="8.2" fill="#4a4d56" font-weight="normal" stroke="#4a4d56" stroke-width="0.18" textLength="13.22" lengthAdjust="spacingAndGlyphs">Jun</text>
<text x="553.26" y="424.00" font-size="8.2" fill="#4a4d56" font-weight="normal" stroke="#4a4d56" stroke-width="0.18" textLength="10.48" lengthAdjust="spacingAndGlyphs">Jul</text>
<text x="648.40" y="424.00" font-size="8.2" fill="#4a4d56" font-weight="normal" stroke="#4a4d56" stroke-width="0.18" textLength="14.59" lengthAdjust="spacingAndGlyphs">Aug</text>
<text x="745.60" y="424.00" font-size="8.2" fill="#4a4d56" font-weight="normal" stroke="#4a4d56" stroke-width="0.18" textLength="14.59" lengthAdjust="spacingAndGlyphs">Sep</text>
<text x="840.59" y="424.00" font-size="8.2" fill="#4a4d56" font-weight="normal" stroke="#4a4d56" stroke-width="0.18" textLength="12.76" lengthAdjust="spacingAndGlyphs">Oct</text>
<text x="936.87" y="424.00" font-size="8.2" fill="#4a4d56" font-weight="normal" stroke="#4a4d56" stroke-width="0.18" textLength="14.58" lengthAdjust="spacingAndGlyphs">Nov</text>
<text x="12.50" y="32.80" font-size="8.2" fill="#5d606b" font-weight="normal" stroke="#5d606b" stroke-width="0.22" textLength="125.80" lengthAdjust="spacingAndGlyphs">Bitcoin / TetherUS · 1D · Binance</text>
<text x="143.75" y="32.80" font-size="8.2" fill="#5d606b" font-weight="normal" stroke="#5d606b" stroke-width="0.22" textLength="5.55" lengthAdjust="spacingAndGlyphs">O</text>
<text x="150.00" y="32.80" font-size="8.2" fill="#ef5350" font-weight="normal" stroke="#ef5350" stroke-width="0.22" textLength="41.00" lengthAdjust="spacingAndGlyphs">114,311.97</text>
<text x="196.90" y="32.80" font-size="8.2" fill="#5d606b" font-weight="normal" stroke="#5d606b" stroke-width="0.22" textLength="5.30" lengthAdjust="spacingAndGlyphs">H</text>
<text x="203.40" y="32.80" font-size="8.2" fill="#ef5350" font-weight="normal" stroke="#ef5350" stroke-width="0.22" textLength="40.35" lengthAdjust="spacingAndGlyphs">114,792.00</text>
<text x="249.50" y="32.80" font-size="8.2" fill="#5d606b" font-weight="normal" stroke="#5d606b" stroke-width="0.22" textLength="4.70" lengthAdjust="spacingAndGlyphs">L</text>
<text x="254.70" y="32.80" font-size="8.2" fill="#ef5350" font-weight="normal" stroke="#ef5350" stroke-width="0.22" textLength="40.10" lengthAdjust="spacingAndGlyphs">112,656.27</text>
<text x="301.10" y="32.80" font-size="8.2" fill="#5d606b" font-weight="normal" stroke="#5d606b" stroke-width="0.22" textLength="4.90" lengthAdjust="spacingAndGlyphs">C</text>
<text x="306.60" y="32.80" font-size="8.2" fill="#ef5350" font-weight="normal" stroke="#ef5350" stroke-width="0.22" textLength="40.90" lengthAdjust="spacingAndGlyphs">113,071.64</text>
<text x="353.40" y="32.80" font-size="8.2" fill="#ef5350" font-weight="normal" stroke="#ef5350" stroke-width="0.22" textLength="71.10" lengthAdjust="spacingAndGlyphs">−1,240.32 (−1.09%)</text>
<text x="12.50" y="44.80" font-size="8.2" fill="#5d606b" font-weight="normal" stroke="#5d606b" stroke-width="0.22" textLength="34.10" lengthAdjust="spacingAndGlyphs">Vol · BTC</text>
<text x="52.30" y="44.80" font-size="8.2" fill="#ef5350" font-weight="normal" stroke="#ef5350" stroke-width="0.22" textLength="18.80" lengthAdjust="spacingAndGlyphs">7.7 K</text>
<text x="12.50" y="56.60" font-size="8.2" fill="#5d606b" font-weight="normal" stroke="#5d606b" stroke-width="0.22" textLength="76.25" lengthAdjust="spacingAndGlyphs">EMA 20/50/100/200</text>
<text x="94.80" y="56.60" font-size="8.2" fill="#f7202f" font-weight="normal" stroke="#f7202f" stroke-width="0.4" textLength="39.90" lengthAdjust="spacingAndGlyphs">112,980.31</text>
<text x="141.70" y="56.60" font-size="8.2" fill="#ff9800" font-weight="normal" stroke="#ff9800" stroke-width="0.4" textLength="41.10" lengthAdjust="spacingAndGlyphs">113,324.28</text>
<text x="189.00" y="56.60" font-size="8.2" fill="#00e5ff" font-weight="normal" stroke="#00e5ff" stroke-width="0.4" textLength="41.00" lengthAdjust="spacingAndGlyphs">111,825.28</text>
<text x="236.25" y="56.60" font-size="8.2" fill="#2a2af2" font-weight="normal" stroke="#2a2af2" stroke-width="0.4" textLength="39.85" lengthAdjust="spacingAndGlyphs">106,405.81</text>
<text x="12.50" y="381.30" font-size="8.2" fill="#5d606b" font-weight="normal" stroke="#5d606b" stroke-width="0.22" textLength="52.30" lengthAdjust="spacingAndGlyphs">RSI (14, close)</text>
<text x="72.70" y="381.30" font-size="8.2" fill="#7e57c2" font-weight="normal" stroke="#7e57c2" stroke-width="0.22" textLength="18.70" lengthAdjust="spacingAndGlyphs">49.81</text>
<text x="98.10" y="381.30" font-size="8.2" fill="#fdd835" font-weight="normal" stroke="#fdd835" stroke-width="0.22" textLength="20.65" lengthAdjust="spacingAndGlyphs">48.69</text>
<rect x="125.4" y="375.6" width="5.6" height="5.6" rx="1.2" fill="none" stroke="#5d606b" stroke-width="0.9"/><line x1="125.6" y1="381" x2="130.8" y2="375.8" stroke="#5d606b" stroke-width="0.9"/>
<circle cx="141.4" cy="378.4" r="2.8" fill="none" stroke="#5d606b" stroke-width="0.9"/><line x1="138.6" y1="381.2" x2="144.2" y2="375.6" stroke="#5d606b" stroke-width="0.9"/>
<g fill="#0b0b0f"><path d="M8.24,446 H16.6 V456.65 H12.2 V450.2 H8.24 Z"/><circle cx="20.04" cy="448.1" r="1.85"/><path d="M24.8,446 H29.0 L24.4,456.65 H20.2 Z"/></g>
<text x="34.3" y="456.7" font-size="14.6" font-weight="normal" fill="#0b0b0f" stroke="#0b0b0f" stroke-width="0.55" textLength="85" lengthAdjust="spacingAndGlyphs">TradingView</text>
</svg></body></html>
